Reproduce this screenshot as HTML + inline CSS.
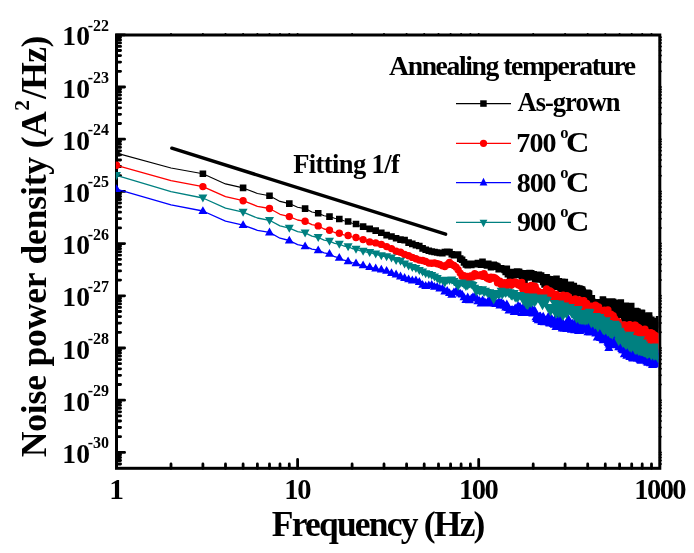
<!DOCTYPE html><html><head><meta charset="utf-8"><style>html,body{margin:0;padding:0;background:#fff;}svg{display:block;will-change:transform;}text{font-family:"Liberation Serif",serif;}</style></head><body>
<svg width="694" height="553" viewBox="0 0 694 553">
<rect width="694" height="553" fill="#fff"/>
<defs><clipPath id="c"><rect x="115.8" y="35.0" width="542.6" height="433.3"/></clipPath></defs>
<rect x="116.5" y="35.0" width="543.3" height="433.3" fill="none" stroke="#000" stroke-width="3"/>
<path d="M116.5 34.8H124.6M116.5 71.3H120.6M116.5 62.1H120.6M116.5 55.6H120.6M116.5 50.5H120.6M116.5 46.4H120.6M116.5 42.9H120.6M116.5 39.9H120.6M116.5 37.2H120.6M116.5 87.0H124.6M116.5 123.5H120.6M116.5 114.3H120.6M116.5 107.8H120.6M116.5 102.7H120.6M116.5 98.6H120.6M116.5 95.1H120.6M116.5 92.1H120.6M116.5 89.4H120.6M116.5 139.2H124.6M116.5 175.7H120.6M116.5 166.5H120.6M116.5 160.0H120.6M116.5 154.9H120.6M116.5 150.8H120.6M116.5 147.3H120.6M116.5 144.3H120.6M116.5 141.6H120.6M116.5 191.4H124.6M116.5 227.9H120.6M116.5 218.7H120.6M116.5 212.2H120.6M116.5 207.1H120.6M116.5 203.0H120.6M116.5 199.5H120.6M116.5 196.5H120.6M116.5 193.8H120.6M116.5 243.6H124.6M116.5 280.1H120.6M116.5 270.9H120.6M116.5 264.4H120.6M116.5 259.3H120.6M116.5 255.2H120.6M116.5 251.7H120.6M116.5 248.7H120.6M116.5 246.0H120.6M116.5 295.8H124.6M116.5 332.3H120.6M116.5 323.1H120.6M116.5 316.6H120.6M116.5 311.5H120.6M116.5 307.4H120.6M116.5 303.9H120.6M116.5 300.9H120.6M116.5 298.2H120.6M116.5 348.0H124.6M116.5 384.5H120.6M116.5 375.3H120.6M116.5 368.8H120.6M116.5 363.7H120.6M116.5 359.6H120.6M116.5 356.1H120.6M116.5 353.1H120.6M116.5 350.4H120.6M116.5 400.2H124.6M116.5 436.7H120.6M116.5 427.5H120.6M116.5 421.0H120.6M116.5 415.9H120.6M116.5 411.8H120.6M116.5 408.3H120.6M116.5 405.3H120.6M116.5 402.6H120.6M116.5 452.4H124.6M116.5 464.0H120.6M116.5 460.5H120.6M116.5 457.5H120.6M116.5 454.8H120.6M171.0 468.3V463.9M202.9 468.3V463.9M225.5 468.3V463.9M243.1 468.3V463.9M257.4 468.3V463.9M269.5 468.3V463.9M280.0 468.3V463.9M289.3 468.3V463.9M297.6 468.3V459.4M352.1 468.3V463.9M384.0 468.3V463.9M406.6 468.3V463.9M424.2 468.3V463.9M438.5 468.3V463.9M450.6 468.3V463.9M461.1 468.3V463.9M470.4 468.3V463.9M478.7 468.3V459.4M533.2 468.3V463.9M565.1 468.3V463.9M587.7 468.3V463.9M605.3 468.3V463.9M619.6 468.3V463.9M631.7 468.3V463.9M642.2 468.3V463.9M651.5 468.3V463.9" stroke="#000" stroke-width="2.8" stroke-linecap="round" fill="none"/>
<path d="M171.0 35V33.9M202.9 35V33.9M225.5 35V33.9M243.1 35V33.9M257.4 35V33.9M269.5 35V33.9M280.0 35V33.9M289.3 35V33.9M297.6 35V33.9M352.1 35V33.9M384.0 35V33.9M406.6 35V33.9M424.2 35V33.9M438.5 35V33.9M450.6 35V33.9M461.1 35V33.9M470.4 35V33.9M478.7 35V33.9M533.2 35V33.9M565.1 35V33.9M587.7 35V33.9M605.3 35V33.9M619.6 35V33.9M631.7 35V33.9M642.2 35V33.9M651.5 35V33.9M659.8 71.3H660.9M659.8 62.1H660.9M659.8 55.6H660.9M659.8 50.5H660.9M659.8 46.4H660.9M659.8 42.9H660.9M659.8 39.9H660.9M659.8 37.2H660.9M659.8 87.0H660.9M659.8 123.5H660.9M659.8 114.3H660.9M659.8 107.8H660.9M659.8 102.7H660.9M659.8 98.6H660.9M659.8 95.1H660.9M659.8 92.1H660.9M659.8 89.4H660.9M659.8 139.2H660.9M659.8 175.7H660.9M659.8 166.5H660.9M659.8 160.0H660.9M659.8 154.9H660.9M659.8 150.8H660.9M659.8 147.3H660.9M659.8 144.3H660.9M659.8 141.6H660.9M659.8 191.4H660.9M659.8 227.9H660.9M659.8 218.7H660.9M659.8 212.2H660.9M659.8 207.1H660.9M659.8 203.0H660.9M659.8 199.5H660.9M659.8 196.5H660.9M659.8 193.8H660.9M659.8 243.6H660.9M659.8 280.1H660.9M659.8 270.9H660.9M659.8 264.4H660.9M659.8 259.3H660.9M659.8 255.2H660.9M659.8 251.7H660.9M659.8 248.7H660.9M659.8 246.0H660.9M659.8 295.8H660.9M659.8 332.3H660.9M659.8 323.1H660.9M659.8 316.6H660.9M659.8 311.5H660.9M659.8 307.4H660.9M659.8 303.9H660.9M659.8 300.9H660.9M659.8 298.2H660.9M659.8 348.0H660.9M659.8 384.5H660.9M659.8 375.3H660.9M659.8 368.8H660.9M659.8 363.7H660.9M659.8 359.6H660.9M659.8 356.1H660.9M659.8 353.1H660.9M659.8 350.4H660.9M659.8 400.2H660.9M659.8 436.7H660.9M659.8 427.5H660.9M659.8 421.0H660.9M659.8 415.9H660.9M659.8 411.8H660.9M659.8 408.3H660.9M659.8 405.3H660.9M659.8 402.6H660.9M659.8 452.4H660.9M659.8 464.0H660.9M659.8 460.5H660.9M659.8 457.5H660.9M659.8 454.8H660.9" stroke="#000" stroke-width="2" stroke-linecap="round" fill="none"/>
<g clip-path="url(#c)">
<path d="M116.5 153.1 L171.0 168.0 L202.9 173.8 L225.5 183.9 L243.1 187.9 L257.4 193.5 L269.5 195.8 L280.0 201.4 L289.3 203.6 L297.6 207.2 L305.1 208.6 L311.9 212.0 L318.2 213.3 L324.1 215.7 L329.5 216.6 L334.6 218.3 L339.3 219.0 L343.8 220.8 L348.1 221.5 L352.1 223.3 L356.0 224.0 L359.6 225.9 L363.1 226.6 L366.5 228.3 L369.7 228.9 L372.8 230.1 L375.7 230.6 L378.6 232.2 L381.3 232.8 L384.0 234.5 L386.6 235.1 L389.1 236.1 L391.5 236.5 L393.9 237.8 L396.1 238.3 L398.3 239.2 L400.5 239.6 L402.6 239.9 L404.6 240.1 L406.6 241.9 L408.6 242.6 L410.5 243.5 L412.3 243.9 L414.1 244.9 L415.9 245.3 L417.6 245.8 L419.3 246.0 L421.0 247.7 L422.6 248.4 L424.2 249.4 L425.7 249.8 L427.3 250.5 L428.8 250.8 L430.2 251.3 L431.7 251.5 L433.1 251.9 L434.5 252.0 L435.9 252.4 L437.2 252.5 L438.5 252.9 L439.8 253.0 L442.4 253.3 L444.8 252.0 L447.2 251.8 L449.5 252.1 L451.8 254.2 L453.9 255.1 L456.1 254.5 L458.1 254.6 L460.2 258.6 L462.1 259.8 L464.0 262.4 L465.9 264.4 L467.7 265.3 L469.5 263.9 L471.3 265.0 L473.0 263.9 L474.7 264.2 L476.3 264.0 L477.9 263.1 L479.5 264.3 L481.0 264.6 L482.5 261.9 L484.0 263.7 L485.5 264.5 L486.9 265.4 L488.3 263.9 L489.7 265.1 L491.0 267.3 L492.4 266.7 L493.7 264.7 L495.0 265.6 L496.3 266.0 L497.5 266.7 L498.7 269.1 L499.9 269.2 L501.1 268.3 L502.3 268.9 L503.5 268.9 L504.6 270.0 L505.7 271.9 L506.8 268.8 L507.9 274.2 L509.0 274.2 L510.1 276.4 L511.1 276.5 L512.1 275.4 L513.2 272.1 L514.2 275.2 L515.2 274.6 L516.2 272.3 L517.1 271.6 L518.1 271.7 L519.0 271.8 L520.0 273.1 L520.9 274.6 L521.8 275.8 L522.7 278.7 L523.6 279.7 L524.5 279.9 L525.4 275.7 L526.2 273.2 L527.1 277.5 L527.9 277.2 L528.8 276.3 L529.6 273.1 L530.4 274.0 L531.2 273.4 L532.0 277.1 L532.8 274.7 L533.6 274.3 L534.4 274.9 L535.2 279.5 L535.9 279.4 L536.7 279.4 L537.4 275.6 L538.2 274.7 L538.9 274.9 L539.6 276.5 L540.4 276.4 L541.1 275.6 L541.8 279.5 L542.5 279.6 L543.2 282.0 L543.9 280.6 L544.6 284.5 L545.2 279.9 L545.9 281.0 L546.6 277.4 L547.2 279.4 L547.9 279.0 L548.5 280.2 L549.2 284.1 L549.8 279.3 L550.5 282.8 L551.1 281.7 L551.7 284.4 L552.3 283.1 L552.9 279.9 L553.5 280.3 L554.2 283.8 L554.8 286.1 L555.3 286.6 L555.9 282.7 L556.5 278.8 L557.1 284.2 L557.7 282.5 L558.3 282.2 L558.8 281.4 L559.4 282.3 L560.0 285.7 L560.5 288.9 L561.1 287.2 L561.6 283.7 L562.2 281.9 L562.7 286.4 L563.2 288.5 L563.8 288.4 L564.3 285.4 L564.8 282.1 L565.4 286.7 L565.9 290.7 L566.4 286.0 L566.9 289.5 L567.4 286.5 L567.9 286.4 L568.4 290.6 L568.9 288.2 L569.4 290.3 L569.9 289.9 L570.4 286.0 L570.9 284.8 L571.4 291.1 L571.9 289.1 L572.4 289.8 L572.8 288.3 L573.3 286.1 L573.8 286.1 L574.3 290.5 L574.7 294.6 L575.2 295.7 L575.6 291.3 L576.1 288.6 L576.6 291.6 L577.0 288.1 L577.5 292.8 L577.9 293.2 L578.3 292.8 L578.8 291.6 L579.2 288.6 L579.7 289.6 L580.1 289.0 L580.5 289.2 L581.0 289.4 L581.4 289.5 L581.8 292.6 L582.2 289.9 L582.7 291.5 L583.1 292.5 L583.5 295.9 L583.9 295.8 L584.3 293.3 L584.7 295.0 L585.1 299.4 L585.5 296.4 L585.9 300.0 L586.3 299.0 L586.7 295.7 L587.1 294.6 L587.5 292.9 L587.9 294.7 L588.3 293.3 L588.7 295.3 L589.1 293.8 L589.5 300.0 L589.9 302.5 L590.2 300.4 L590.6 299.2 L591.0 300.0 L591.4 300.4 L591.8 298.3 L592.1 301.6 L592.5 305.8 L592.9 305.3 L593.2 305.6 L593.6 306.5 L594.0 306.8 L594.3 307.0 L594.7 307.2 L595.1 307.5 L595.4 303.7 L595.8 303.7 L596.1 304.9 L596.5 303.0 L596.8 307.4 L597.2 302.9 L597.5 302.4 L597.9 303.2 L598.2 304.1 L598.6 305.6 L598.9 307.8 L599.2 306.6 L599.6 308.6 L599.9 307.5 L600.2 304.0 L600.6 307.0 L600.9 308.2 L601.2 309.1 L601.6 309.2 L601.9 309.2 L602.2 305.7 L602.6 303.8 L602.9 299.5 L603.2 301.0 L603.5 301.5 L603.9 304.6 L604.2 306.2 L604.5 305.9 L604.8 305.9 L605.1 307.8 L605.4 310.1 L605.8 308.8 L606.1 309.5 L606.4 309.8 L606.7 309.8 L607.0 308.4 L607.3 308.1 L607.6 305.6 L607.9 310.3 L608.2 310.9 L608.5 310.9 L608.8 311.0 L609.1 307.4 L609.4 303.6 L609.7 303.7 L610.0 301.6 L610.3 309.8 L610.6 305.5 L610.9 304.0 L611.2 302.7 L611.5 304.4 L611.8 301.6 L612.1 301.7 L612.3 301.9 L612.6 306.0 L612.9 302.4 L613.2 302.1 L613.5 304.5 L613.8 304.0 L614.1 307.3 L614.3 308.9 L614.6 312.1 L614.9 310.5 L615.2 307.1 L615.5 304.9 L615.7 303.0 L616.0 308.7 L616.3 305.9 L616.5 309.0 L616.8 304.4 L617.1 307.4 L617.4 307.4 L617.6 311.0 L617.9 311.6 L618.2 314.5 L618.4 314.7 L618.7 314.8 L619.0 313.5 L619.2 308.7 L619.5 308.0 L619.8 306.5 L620.0 310.3 L620.3 306.7 L620.5 308.4 L620.8 302.6 L621.1 308.4 L621.3 311.3 L621.6 313.3 L621.8 311.7 L622.1 310.6 L622.3 308.6 L622.6 309.7 L622.8 307.9 L623.1 308.1 L623.3 314.0 L623.6 309.1 L623.8 314.2 L624.1 312.6 L624.3 317.1 L624.6 318.4 L624.8 313.6 L625.1 308.9 L625.3 314.6 L625.6 308.8 L625.8 305.9 L626.0 308.6 L626.3 312.7 L626.5 310.1 L626.8 308.8 L627.0 313.6 L627.2 313.3 L627.5 311.4 L627.7 313.9 L627.9 315.0 L628.2 311.5 L628.4 314.7 L628.7 319.3 L628.9 317.9 L629.1 318.7 L629.4 319.9 L629.6 316.4 L629.8 320.0 L630.0 315.1 L630.3 310.6 L630.5 307.7 L630.7 313.2 L631.0 310.0 L631.2 306.0 L631.4 313.8 L631.6 313.9 L631.9 312.2 L632.1 311.8 L632.3 319.2 L632.5 312.7 L632.8 316.9 L633.0 314.5 L633.2 312.4 L633.4 312.1 L633.6 316.5 L633.9 317.1 L634.1 318.2 L634.3 321.2 L634.5 321.3 L634.7 320.7 L634.9 321.4 L635.2 316.4 L635.4 316.6 L635.6 315.0 L635.8 311.1 L636.0 314.7 L636.2 313.4 L636.4 313.0 L636.6 314.5 L636.9 311.8 L637.1 312.1 L637.3 311.5 L637.5 312.3 L637.7 318.5 L637.9 321.1 L638.1 322.3 L638.3 317.4 L638.5 318.1 L638.7 320.6 L638.9 321.8 L639.1 322.5 L639.3 320.7 L639.5 322.6 L639.8 318.2 L640.0 319.8 L640.2 322.8 L640.4 320.0 L640.6 314.6 L640.8 316.4 L641.0 313.0 L641.2 316.4 L641.4 312.8 L641.6 318.5 L641.8 315.1 L642.0 313.0 L642.2 317.8 L642.3 315.9 L642.5 318.0 L642.7 322.2 L642.9 322.6 L643.1 324.0 L643.3 324.0 L643.5 324.1 L643.7 321.2 L643.9 323.1 L644.1 321.4 L644.3 324.4 L644.5 324.8 L644.7 324.5 L644.9 324.6 L645.1 324.7 L645.2 324.8 L645.4 324.8 L645.6 324.9 L645.8 324.8 L646.0 325.1 L646.2 325.1 L646.4 322.7 L646.6 321.1 L646.7 323.5 L646.9 323.2 L647.1 320.6 L647.3 319.5 L647.5 323.9 L647.7 325.7 L647.8 325.8 L648.0 324.5 L648.2 321.7 L648.4 321.1 L648.6 320.5 L648.8 319.2 L648.9 315.5 L649.1 315.6 L649.3 318.3 L649.5 324.5 L649.7 323.4 L649.8 324.5 L650.0 326.1 L650.2 326.4 L650.4 326.7 L650.5 322.0 L650.7 326.6 L650.9 319.8 L651.1 320.4 L651.3 319.9 L651.4 324.1 L651.6 324.4 L651.8 324.0 L651.9 321.6 L652.1 326.7 L652.3 325.4 L652.5 325.9 L652.6 322.1 L652.8 322.0 L653.0 325.9 L653.2 326.3 L653.3 323.7 L653.5 321.2 L653.7 326.0 L653.8 328.0 L654.0 325.0 L654.2 321.1 L654.3 321.0 L654.5 326.9 L654.7 325.3 L654.8 324.9 L655.0 326.9 L655.2 329.4 L655.4 328.6 L655.5 327.4 L655.7 328.5 L655.8 323.7 L656.0 325.8 L656.2 321.1 L656.3 322.8 L656.5 327.9 L656.7 327.4 L656.8 325.1 L657.0 326.7 L657.2 322.7 L657.3 322.9 L657.5 324.5 L657.6 328.3 L657.8 330.1 L658.0 322.2 L658.1 328.1 L658.3 327.9 L658.5 322.6 L658.6 325.4 L658.8 326.5 L658.9 321.1 L659.1 319.3 L659.2 321.1 L659.4 320.6 L659.6 325.2 L659.7 328.4" fill="none" stroke="#000" stroke-width="1.1" stroke-linejoin="round"/>
<path d="M113.2 149.8h6.6v6.6h-6.6zM199.6 170.5h6.6v6.6h-6.6zM239.8 184.6h6.6v6.6h-6.6zM266.2 192.5h6.6v6.6h-6.6zM286.0 200.3h6.6v6.6h-6.6zM301.8 205.3h6.6v6.6h-6.6zM314.9 210.0h6.6v6.6h-6.6zM326.2 213.3h6.6v6.6h-6.6zM336.0 215.7h6.6v6.6h-6.6zM344.8 218.2h6.6v6.6h-6.6zM352.7 220.7h6.6v6.6h-6.6zM359.8 223.3h6.6v6.6h-6.6zM366.4 225.6h6.6v6.6h-6.6zM372.4 227.3h6.6v6.6h-6.6zM378.0 229.5h6.6v6.6h-6.6zM383.3 231.8h6.6v6.6h-6.6zM388.2 233.2h6.6v6.6h-6.6zM392.8 235.0h6.6v6.6h-6.6zM397.2 236.3h6.6v6.6h-6.6zM401.3 236.8h6.6v6.6h-6.6zM405.3 239.3h6.6v6.6h-6.6zM409.0 240.6h6.6v6.6h-6.6zM412.6 242.0h6.6v6.6h-6.6zM416.0 242.7h6.6v6.6h-6.6zM419.3 245.1h6.6v6.6h-6.6zM422.4 246.5h6.6v6.6h-6.6zM425.5 247.5h6.6v6.6h-6.6zM428.4 248.2h6.6v6.6h-6.6zM431.2 248.7h6.6v6.6h-6.6zM433.9 249.2h6.6v6.6h-6.6zM436.5 249.7h6.6v6.6h-6.6zM439.1 250.0h6.6v6.6h-6.6zM441.5 248.7h6.6v6.6h-6.6zM443.9 248.5h6.6v6.6h-6.6zM446.2 248.8h6.6v6.6h-6.6zM448.5 250.9h6.6v6.6h-6.6zM450.6 251.8h6.6v6.6h-6.6zM452.8 251.2h6.6v6.6h-6.6zM454.8 251.3h6.6v6.6h-6.6zM456.9 255.3h6.6v6.6h-6.6zM458.8 256.5h6.6v6.6h-6.6zM460.7 259.1h6.6v6.6h-6.6zM462.6 261.1h6.6v6.6h-6.6zM464.4 262.0h6.6v6.6h-6.6zM466.2 260.6h6.6v6.6h-6.6zM468.0 261.7h6.6v6.6h-6.6zM469.7 260.6h6.6v6.6h-6.6zM471.4 260.9h6.6v6.6h-6.6zM473.0 260.7h6.6v6.6h-6.6zM474.6 259.8h6.6v6.6h-6.6zM476.2 261.0h6.6v6.6h-6.6zM477.7 261.3h6.6v6.6h-6.6zM479.2 258.6h6.6v6.6h-6.6zM480.7 260.4h6.6v6.6h-6.6zM482.2 261.2h6.6v6.6h-6.6zM483.6 262.1h6.6v6.6h-6.6zM485.0 260.6h6.6v6.6h-6.6zM486.4 261.8h6.6v6.6h-6.6zM487.7 264.0h6.6v6.6h-6.6zM489.1 263.4h6.6v6.6h-6.6zM490.4 261.4h6.6v6.6h-6.6zM491.7 262.3h6.6v6.6h-6.6zM493.0 262.7h6.6v6.6h-6.6zM494.2 263.4h6.6v6.6h-6.6zM495.4 265.8h6.6v6.6h-6.6zM496.6 265.9h6.6v6.6h-6.6zM497.8 265.0h6.6v6.6h-6.6zM499.0 265.6h6.6v6.6h-6.6zM500.2 265.6h6.6v6.6h-6.6zM501.3 266.7h6.6v6.6h-6.6zM502.4 268.6h6.6v6.6h-6.6zM503.5 265.5h6.6v6.6h-6.6zM504.6 270.9h6.6v6.6h-6.6zM505.7 270.9h6.6v6.6h-6.6zM506.8 273.1h6.6v6.6h-6.6zM507.8 273.2h6.6v6.6h-6.6zM508.8 272.1h6.6v6.6h-6.6zM509.9 268.8h6.6v6.6h-6.6zM510.9 271.9h6.6v6.6h-6.6zM511.9 271.3h6.6v6.6h-6.6zM512.9 269.0h6.6v6.6h-6.6zM513.8 268.3h6.6v6.6h-6.6zM514.8 268.4h6.6v6.6h-6.6zM515.7 268.5h6.6v6.6h-6.6zM516.7 269.8h6.6v6.6h-6.6zM517.6 271.3h6.6v6.6h-6.6zM518.5 272.5h6.6v6.6h-6.6zM519.4 275.4h6.6v6.6h-6.6zM520.3 276.4h6.6v6.6h-6.6zM521.2 276.6h6.6v6.6h-6.6zM522.1 272.4h6.6v6.6h-6.6zM522.9 269.9h6.6v6.6h-6.6zM523.8 274.2h6.6v6.6h-6.6zM524.6 273.9h6.6v6.6h-6.6zM525.5 273.0h6.6v6.6h-6.6zM526.3 269.8h6.6v6.6h-6.6zM527.1 270.7h6.6v6.6h-6.6zM527.9 270.1h6.6v6.6h-6.6zM528.7 273.8h6.6v6.6h-6.6zM529.5 271.4h6.6v6.6h-6.6zM530.3 271.0h6.6v6.6h-6.6zM531.1 271.6h6.6v6.6h-6.6zM531.9 276.2h6.6v6.6h-6.6zM532.6 276.1h6.6v6.6h-6.6zM533.4 276.1h6.6v6.6h-6.6zM534.1 272.3h6.6v6.6h-6.6zM534.9 271.4h6.6v6.6h-6.6zM535.6 271.6h6.6v6.6h-6.6zM536.3 273.2h6.6v6.6h-6.6zM537.1 273.1h6.6v6.6h-6.6zM537.8 272.3h6.6v6.6h-6.6zM538.5 276.2h6.6v6.6h-6.6zM539.2 276.3h6.6v6.6h-6.6zM539.9 278.7h6.6v6.6h-6.6zM540.6 277.3h6.6v6.6h-6.6zM541.3 281.2h6.6v6.6h-6.6zM541.9 276.6h6.6v6.6h-6.6zM542.6 277.7h6.6v6.6h-6.6zM543.3 274.1h6.6v6.6h-6.6zM543.9 276.1h6.6v6.6h-6.6zM544.6 275.7h6.6v6.6h-6.6zM545.2 276.9h6.6v6.6h-6.6zM545.9 280.8h6.6v6.6h-6.6zM546.5 276.0h6.6v6.6h-6.6zM547.2 279.5h6.6v6.6h-6.6zM547.8 278.4h6.6v6.6h-6.6zM548.4 281.1h6.6v6.6h-6.6zM549.0 279.8h6.6v6.6h-6.6zM549.6 276.6h6.6v6.6h-6.6zM550.2 277.0h6.6v6.6h-6.6zM550.9 280.5h6.6v6.6h-6.6zM551.5 282.8h6.6v6.6h-6.6zM552.0 283.3h6.6v6.6h-6.6zM552.6 279.4h6.6v6.6h-6.6zM553.2 275.5h6.6v6.6h-6.6zM553.8 280.9h6.6v6.6h-6.6zM554.4 279.2h6.6v6.6h-6.6zM555.0 278.9h6.6v6.6h-6.6zM555.5 278.1h6.6v6.6h-6.6zM556.1 279.0h6.6v6.6h-6.6zM556.7 282.4h6.6v6.6h-6.6zM557.2 285.6h6.6v6.6h-6.6zM557.8 283.9h6.6v6.6h-6.6zM558.3 280.4h6.6v6.6h-6.6zM558.9 278.6h6.6v6.6h-6.6zM559.4 283.1h6.6v6.6h-6.6zM559.9 285.2h6.6v6.6h-6.6zM560.5 285.1h6.6v6.6h-6.6zM561.0 282.1h6.6v6.6h-6.6zM561.5 278.8h6.6v6.6h-6.6zM562.1 283.4h6.6v6.6h-6.6zM562.6 287.4h6.6v6.6h-6.6zM563.1 282.7h6.6v6.6h-6.6zM563.6 286.2h6.6v6.6h-6.6zM564.1 283.2h6.6v6.6h-6.6zM564.6 283.1h6.6v6.6h-6.6zM565.1 287.3h6.6v6.6h-6.6zM565.6 284.9h6.6v6.6h-6.6zM566.1 287.0h6.6v6.6h-6.6zM566.6 286.6h6.6v6.6h-6.6zM567.1 282.7h6.6v6.6h-6.6zM567.6 281.5h6.6v6.6h-6.6zM568.1 287.8h6.6v6.6h-6.6zM568.6 285.8h6.6v6.6h-6.6zM569.1 286.5h6.6v6.6h-6.6zM569.5 285.0h6.6v6.6h-6.6zM570.0 282.8h6.6v6.6h-6.6zM570.5 282.8h6.6v6.6h-6.6zM571.0 287.2h6.6v6.6h-6.6zM571.4 291.3h6.6v6.6h-6.6zM571.9 292.4h6.6v6.6h-6.6zM572.3 288.0h6.6v6.6h-6.6zM572.8 285.3h6.6v6.6h-6.6zM573.3 288.3h6.6v6.6h-6.6zM573.7 284.8h6.6v6.6h-6.6zM574.2 289.5h6.6v6.6h-6.6zM574.6 289.9h6.6v6.6h-6.6zM575.0 289.5h6.6v6.6h-6.6zM575.5 288.3h6.6v6.6h-6.6zM575.9 285.3h6.6v6.6h-6.6zM576.4 286.3h6.6v6.6h-6.6zM576.8 285.7h6.6v6.6h-6.6zM577.2 285.9h6.6v6.6h-6.6zM577.7 286.1h6.6v6.6h-6.6zM578.1 286.2h6.6v6.6h-6.6zM578.5 289.3h6.6v6.6h-6.6zM578.9 286.6h6.6v6.6h-6.6zM579.4 288.2h6.6v6.6h-6.6zM579.8 289.2h6.6v6.6h-6.6zM580.2 292.6h6.6v6.6h-6.6zM580.6 292.5h6.6v6.6h-6.6zM581.0 290.0h6.6v6.6h-6.6zM581.4 291.7h6.6v6.6h-6.6zM581.8 296.1h6.6v6.6h-6.6zM582.2 293.1h6.6v6.6h-6.6zM582.6 296.7h6.6v6.6h-6.6zM583.0 295.7h6.6v6.6h-6.6zM583.4 292.4h6.6v6.6h-6.6zM583.8 291.3h6.6v6.6h-6.6zM584.2 289.6h6.6v6.6h-6.6zM584.6 291.4h6.6v6.6h-6.6zM585.0 290.0h6.6v6.6h-6.6zM585.4 292.0h6.6v6.6h-6.6zM585.8 290.5h6.6v6.6h-6.6zM586.2 296.7h6.6v6.6h-6.6zM586.6 299.2h6.6v6.6h-6.6zM586.9 297.1h6.6v6.6h-6.6zM587.3 295.9h6.6v6.6h-6.6zM587.7 296.7h6.6v6.6h-6.6zM588.1 297.1h6.6v6.6h-6.6zM588.5 295.0h6.6v6.6h-6.6zM588.8 298.3h6.6v6.6h-6.6zM589.2 302.5h6.6v6.6h-6.6zM589.6 302.0h6.6v6.6h-6.6zM589.9 302.3h6.6v6.6h-6.6zM590.3 303.2h6.6v6.6h-6.6zM590.7 303.5h6.6v6.6h-6.6zM591.0 303.7h6.6v6.6h-6.6zM591.4 303.9h6.6v6.6h-6.6zM591.8 304.2h6.6v6.6h-6.6zM592.1 300.4h6.6v6.6h-6.6zM592.5 300.4h6.6v6.6h-6.6zM592.8 301.6h6.6v6.6h-6.6zM593.2 299.7h6.6v6.6h-6.6zM593.5 304.1h6.6v6.6h-6.6zM593.9 299.6h6.6v6.6h-6.6zM594.2 299.1h6.6v6.6h-6.6zM594.6 299.9h6.6v6.6h-6.6zM594.9 300.8h6.6v6.6h-6.6zM595.3 302.3h6.6v6.6h-6.6zM595.6 304.5h6.6v6.6h-6.6zM595.9 303.3h6.6v6.6h-6.6zM596.3 305.3h6.6v6.6h-6.6zM596.6 304.2h6.6v6.6h-6.6zM596.9 300.7h6.6v6.6h-6.6zM597.3 303.7h6.6v6.6h-6.6zM597.6 304.9h6.6v6.6h-6.6zM597.9 305.8h6.6v6.6h-6.6zM598.3 305.9h6.6v6.6h-6.6zM598.6 305.9h6.6v6.6h-6.6zM598.9 302.4h6.6v6.6h-6.6zM599.3 300.5h6.6v6.6h-6.6zM599.6 296.2h6.6v6.6h-6.6zM599.9 297.7h6.6v6.6h-6.6zM600.2 298.2h6.6v6.6h-6.6zM600.6 301.3h6.6v6.6h-6.6zM600.9 302.9h6.6v6.6h-6.6zM601.2 302.6h6.6v6.6h-6.6zM601.5 302.6h6.6v6.6h-6.6zM601.8 304.5h6.6v6.6h-6.6zM602.1 306.8h6.6v6.6h-6.6zM602.5 305.5h6.6v6.6h-6.6zM602.8 306.2h6.6v6.6h-6.6zM603.1 306.5h6.6v6.6h-6.6zM603.4 306.5h6.6v6.6h-6.6zM603.7 305.1h6.6v6.6h-6.6zM604.0 304.8h6.6v6.6h-6.6zM604.3 302.3h6.6v6.6h-6.6zM604.6 307.0h6.6v6.6h-6.6zM604.9 307.6h6.6v6.6h-6.6zM605.2 307.6h6.6v6.6h-6.6zM605.5 307.7h6.6v6.6h-6.6zM605.8 304.1h6.6v6.6h-6.6zM606.1 300.3h6.6v6.6h-6.6zM606.4 300.4h6.6v6.6h-6.6zM606.7 298.3h6.6v6.6h-6.6zM607.0 306.5h6.6v6.6h-6.6zM607.3 302.2h6.6v6.6h-6.6zM607.6 300.7h6.6v6.6h-6.6zM607.9 299.4h6.6v6.6h-6.6zM608.2 301.1h6.6v6.6h-6.6zM608.5 298.3h6.6v6.6h-6.6zM608.8 298.4h6.6v6.6h-6.6zM609.0 298.6h6.6v6.6h-6.6zM609.3 302.7h6.6v6.6h-6.6zM609.6 299.1h6.6v6.6h-6.6zM609.9 298.8h6.6v6.6h-6.6zM610.2 301.2h6.6v6.6h-6.6zM610.5 300.7h6.6v6.6h-6.6zM610.8 304.0h6.6v6.6h-6.6zM611.0 305.6h6.6v6.6h-6.6zM611.3 308.8h6.6v6.6h-6.6zM611.6 307.2h6.6v6.6h-6.6zM611.9 303.8h6.6v6.6h-6.6zM612.2 301.6h6.6v6.6h-6.6zM612.4 299.7h6.6v6.6h-6.6zM612.7 305.4h6.6v6.6h-6.6zM613.0 302.6h6.6v6.6h-6.6zM613.2 305.7h6.6v6.6h-6.6zM613.5 301.1h6.6v6.6h-6.6zM613.8 304.1h6.6v6.6h-6.6zM614.1 304.1h6.6v6.6h-6.6zM614.3 307.7h6.6v6.6h-6.6zM614.6 308.3h6.6v6.6h-6.6zM614.9 311.2h6.6v6.6h-6.6zM615.1 311.4h6.6v6.6h-6.6zM615.4 311.5h6.6v6.6h-6.6zM615.7 310.2h6.6v6.6h-6.6zM615.9 305.4h6.6v6.6h-6.6zM616.2 304.7h6.6v6.6h-6.6zM616.5 303.2h6.6v6.6h-6.6zM616.7 307.0h6.6v6.6h-6.6zM617.0 303.4h6.6v6.6h-6.6zM617.2 305.1h6.6v6.6h-6.6zM617.5 299.3h6.6v6.6h-6.6zM617.8 305.1h6.6v6.6h-6.6zM618.0 308.0h6.6v6.6h-6.6zM618.3 310.0h6.6v6.6h-6.6zM618.5 308.4h6.6v6.6h-6.6zM618.8 307.3h6.6v6.6h-6.6zM619.0 305.3h6.6v6.6h-6.6zM619.3 306.4h6.6v6.6h-6.6zM619.5 304.6h6.6v6.6h-6.6zM619.8 304.8h6.6v6.6h-6.6zM620.0 310.7h6.6v6.6h-6.6zM620.3 305.8h6.6v6.6h-6.6zM620.5 310.9h6.6v6.6h-6.6zM620.8 309.3h6.6v6.6h-6.6zM621.0 313.8h6.6v6.6h-6.6zM621.3 315.1h6.6v6.6h-6.6zM621.5 310.3h6.6v6.6h-6.6zM621.8 305.6h6.6v6.6h-6.6zM622.0 311.3h6.6v6.6h-6.6zM622.3 305.5h6.6v6.6h-6.6zM622.5 302.6h6.6v6.6h-6.6zM622.7 305.3h6.6v6.6h-6.6zM623.0 309.4h6.6v6.6h-6.6zM623.2 306.8h6.6v6.6h-6.6zM623.5 305.5h6.6v6.6h-6.6zM623.7 310.3h6.6v6.6h-6.6zM623.9 310.0h6.6v6.6h-6.6zM624.2 308.1h6.6v6.6h-6.6zM624.4 310.6h6.6v6.6h-6.6zM624.6 311.7h6.6v6.6h-6.6zM624.9 308.2h6.6v6.6h-6.6zM625.1 311.4h6.6v6.6h-6.6zM625.4 316.0h6.6v6.6h-6.6zM625.6 314.6h6.6v6.6h-6.6zM625.8 315.4h6.6v6.6h-6.6zM626.1 316.6h6.6v6.6h-6.6zM626.3 313.1h6.6v6.6h-6.6zM626.5 316.7h6.6v6.6h-6.6zM626.7 311.8h6.6v6.6h-6.6zM627.0 307.3h6.6v6.6h-6.6zM627.2 304.4h6.6v6.6h-6.6zM627.4 309.9h6.6v6.6h-6.6zM627.7 306.7h6.6v6.6h-6.6zM627.9 302.7h6.6v6.6h-6.6zM628.1 310.5h6.6v6.6h-6.6zM628.3 310.6h6.6v6.6h-6.6zM628.6 308.9h6.6v6.6h-6.6zM628.8 308.5h6.6v6.6h-6.6zM629.0 315.9h6.6v6.6h-6.6zM629.2 309.4h6.6v6.6h-6.6zM629.5 313.6h6.6v6.6h-6.6zM629.7 311.2h6.6v6.6h-6.6zM629.9 309.1h6.6v6.6h-6.6zM630.1 308.8h6.6v6.6h-6.6zM630.3 313.2h6.6v6.6h-6.6zM630.6 313.8h6.6v6.6h-6.6zM630.8 314.9h6.6v6.6h-6.6zM631.0 317.9h6.6v6.6h-6.6zM631.2 318.0h6.6v6.6h-6.6zM631.4 317.4h6.6v6.6h-6.6zM631.6 318.1h6.6v6.6h-6.6zM631.9 313.1h6.6v6.6h-6.6zM632.1 313.3h6.6v6.6h-6.6zM632.3 311.7h6.6v6.6h-6.6zM632.5 307.8h6.6v6.6h-6.6zM632.7 311.4h6.6v6.6h-6.6zM632.9 310.1h6.6v6.6h-6.6zM633.1 309.7h6.6v6.6h-6.6zM633.3 311.2h6.6v6.6h-6.6zM633.6 308.5h6.6v6.6h-6.6zM633.8 308.8h6.6v6.6h-6.6zM634.0 308.2h6.6v6.6h-6.6zM634.2 309.0h6.6v6.6h-6.6zM634.4 315.2h6.6v6.6h-6.6zM634.6 317.8h6.6v6.6h-6.6zM634.8 319.0h6.6v6.6h-6.6zM635.0 314.1h6.6v6.6h-6.6zM635.2 314.8h6.6v6.6h-6.6zM635.4 317.3h6.6v6.6h-6.6zM635.6 318.5h6.6v6.6h-6.6zM635.8 319.2h6.6v6.6h-6.6zM636.0 317.4h6.6v6.6h-6.6zM636.2 319.3h6.6v6.6h-6.6zM636.5 314.9h6.6v6.6h-6.6zM636.7 316.5h6.6v6.6h-6.6zM636.9 319.5h6.6v6.6h-6.6zM637.1 316.7h6.6v6.6h-6.6zM637.3 311.3h6.6v6.6h-6.6zM637.5 313.1h6.6v6.6h-6.6zM637.7 309.7h6.6v6.6h-6.6zM637.9 313.1h6.6v6.6h-6.6zM638.1 309.5h6.6v6.6h-6.6zM638.3 315.2h6.6v6.6h-6.6zM638.5 311.8h6.6v6.6h-6.6zM638.7 309.7h6.6v6.6h-6.6zM638.9 314.5h6.6v6.6h-6.6zM639.0 312.6h6.6v6.6h-6.6zM639.2 314.7h6.6v6.6h-6.6zM639.4 318.9h6.6v6.6h-6.6zM639.6 319.3h6.6v6.6h-6.6zM639.8 320.7h6.6v6.6h-6.6zM640.0 320.7h6.6v6.6h-6.6zM640.2 320.8h6.6v6.6h-6.6zM640.4 317.9h6.6v6.6h-6.6zM640.6 319.8h6.6v6.6h-6.6zM640.8 318.1h6.6v6.6h-6.6zM641.0 321.1h6.6v6.6h-6.6zM641.2 321.5h6.6v6.6h-6.6zM641.4 321.2h6.6v6.6h-6.6zM641.6 321.3h6.6v6.6h-6.6zM641.8 321.4h6.6v6.6h-6.6zM641.9 321.5h6.6v6.6h-6.6zM642.1 321.5h6.6v6.6h-6.6zM642.3 321.6h6.6v6.6h-6.6zM642.5 321.5h6.6v6.6h-6.6zM642.7 321.8h6.6v6.6h-6.6zM642.9 321.8h6.6v6.6h-6.6zM643.1 319.4h6.6v6.6h-6.6zM643.3 317.8h6.6v6.6h-6.6zM643.4 320.2h6.6v6.6h-6.6zM643.6 319.9h6.6v6.6h-6.6zM643.8 317.3h6.6v6.6h-6.6zM644.0 316.2h6.6v6.6h-6.6zM644.2 320.6h6.6v6.6h-6.6zM644.4 322.4h6.6v6.6h-6.6zM644.5 322.5h6.6v6.6h-6.6zM644.7 321.2h6.6v6.6h-6.6zM644.9 318.4h6.6v6.6h-6.6zM645.1 317.8h6.6v6.6h-6.6zM645.3 317.2h6.6v6.6h-6.6zM645.5 315.9h6.6v6.6h-6.6zM645.6 312.2h6.6v6.6h-6.6zM645.8 312.3h6.6v6.6h-6.6zM646.0 315.0h6.6v6.6h-6.6zM646.2 321.2h6.6v6.6h-6.6zM646.4 320.1h6.6v6.6h-6.6zM646.5 321.2h6.6v6.6h-6.6zM646.7 322.8h6.6v6.6h-6.6zM646.9 323.1h6.6v6.6h-6.6zM647.1 323.4h6.6v6.6h-6.6zM647.2 318.7h6.6v6.6h-6.6zM647.4 323.3h6.6v6.6h-6.6zM647.6 316.5h6.6v6.6h-6.6zM647.8 317.1h6.6v6.6h-6.6zM648.0 316.6h6.6v6.6h-6.6zM648.1 320.8h6.6v6.6h-6.6zM648.3 321.1h6.6v6.6h-6.6zM648.5 320.7h6.6v6.6h-6.6zM648.6 318.3h6.6v6.6h-6.6zM648.8 323.4h6.6v6.6h-6.6zM649.0 322.1h6.6v6.6h-6.6zM649.2 322.6h6.6v6.6h-6.6zM649.3 318.8h6.6v6.6h-6.6zM649.5 318.7h6.6v6.6h-6.6zM649.7 322.6h6.6v6.6h-6.6zM649.9 323.0h6.6v6.6h-6.6zM650.0 320.4h6.6v6.6h-6.6zM650.2 317.9h6.6v6.6h-6.6zM650.4 322.7h6.6v6.6h-6.6zM650.5 324.7h6.6v6.6h-6.6zM650.7 321.7h6.6v6.6h-6.6zM650.9 317.8h6.6v6.6h-6.6zM651.0 317.7h6.6v6.6h-6.6zM651.2 323.6h6.6v6.6h-6.6zM651.4 322.0h6.6v6.6h-6.6zM651.5 321.6h6.6v6.6h-6.6zM651.7 323.6h6.6v6.6h-6.6zM651.9 326.1h6.6v6.6h-6.6zM652.1 325.3h6.6v6.6h-6.6zM652.2 324.1h6.6v6.6h-6.6zM652.4 325.2h6.6v6.6h-6.6zM652.5 320.4h6.6v6.6h-6.6zM652.7 322.5h6.6v6.6h-6.6zM652.9 317.8h6.6v6.6h-6.6zM653.0 319.5h6.6v6.6h-6.6zM653.2 324.6h6.6v6.6h-6.6zM653.4 324.1h6.6v6.6h-6.6zM653.5 321.8h6.6v6.6h-6.6zM653.7 323.4h6.6v6.6h-6.6zM653.9 319.4h6.6v6.6h-6.6zM654.0 319.6h6.6v6.6h-6.6zM654.2 321.2h6.6v6.6h-6.6zM654.3 325.0h6.6v6.6h-6.6zM654.5 326.8h6.6v6.6h-6.6zM654.7 318.9h6.6v6.6h-6.6zM654.8 324.8h6.6v6.6h-6.6zM655.0 324.6h6.6v6.6h-6.6zM655.2 319.3h6.6v6.6h-6.6zM655.3 322.1h6.6v6.6h-6.6zM655.5 323.2h6.6v6.6h-6.6zM655.6 317.8h6.6v6.6h-6.6zM655.8 316.0h6.6v6.6h-6.6zM655.9 317.8h6.6v6.6h-6.6zM656.1 317.3h6.6v6.6h-6.6zM656.3 321.9h6.6v6.6h-6.6zM656.4 325.1h6.6v6.6h-6.6z" fill="#000"/>
<path d="M116.5 165.3 L171.0 180.7 L202.9 186.6 L225.5 196.7 L243.1 200.7 L257.4 206.3 L269.5 208.5 L280.0 214.3 L289.3 216.6 L297.6 220.0 L305.1 221.3 L311.9 224.6 L318.2 225.9 L324.1 229.0 L329.5 230.2 L334.6 232.5 L339.3 233.3 L343.8 234.9 L348.1 235.5 L352.1 236.9 L356.0 237.5 L359.6 239.0 L363.1 239.6 L366.5 241.3 L369.7 241.9 L372.8 242.6 L375.7 242.9 L378.6 244.0 L381.3 244.4 L384.0 246.0 L386.6 246.6 L389.1 248.0 L391.5 248.6 L393.9 250.4 L396.1 251.2 L398.3 251.9 L400.5 252.3 L402.6 253.8 L404.6 254.4 L406.6 255.3 L408.6 255.7 L410.5 256.9 L412.3 257.4 L414.1 258.4 L415.9 258.8 L417.6 259.8 L419.3 260.1 L421.0 260.4 L422.6 260.5 L424.2 261.1 L425.7 261.4 L427.3 262.6 L428.8 263.0 L430.2 263.2 L431.7 263.2 L433.1 263.1 L434.5 263.0 L435.9 263.5 L437.2 263.7 L438.5 264.3 L439.8 264.5 L442.4 265.7 L444.8 266.6 L447.2 264.7 L449.5 262.4 L451.8 264.4 L453.9 265.5 L456.1 267.2 L458.1 269.7 L460.2 273.1 L462.1 276.2 L464.0 275.6 L465.9 278.6 L467.7 276.5 L469.5 278.3 L471.3 275.6 L473.0 276.7 L474.7 273.7 L476.3 275.8 L477.9 275.1 L479.5 275.6 L481.0 274.7 L482.5 276.2 L484.0 273.7 L485.5 276.3 L486.9 278.0 L488.3 278.8 L489.7 279.3 L491.0 277.2 L492.4 278.0 L493.7 277.5 L495.0 277.9 L496.3 279.0 L497.5 282.7 L498.7 281.6 L499.9 281.1 L501.1 284.6 L502.3 285.2 L503.5 285.6 L504.6 282.7 L505.7 283.0 L506.8 286.0 L507.9 282.5 L509.0 284.7 L510.1 282.2 L511.1 285.2 L512.1 284.4 L513.2 283.5 L514.2 282.1 L515.2 282.3 L516.2 282.5 L517.1 282.7 L518.1 284.7 L519.0 283.1 L520.0 285.8 L520.9 284.4 L521.8 282.4 L522.7 289.1 L523.6 291.3 L524.5 287.8 L525.4 287.9 L526.2 288.5 L527.1 286.4 L527.9 289.8 L528.8 289.8 L529.6 292.4 L530.4 290.5 L531.2 285.4 L532.0 285.6 L532.8 286.0 L533.6 289.6 L534.4 287.1 L535.2 286.4 L535.9 288.6 L536.7 293.8 L537.4 292.8 L538.2 291.2 L538.9 293.7 L539.6 293.1 L540.4 295.8 L541.1 296.0 L541.8 294.2 L542.5 293.4 L543.2 292.5 L543.9 296.1 L544.6 297.0 L545.2 294.6 L545.9 291.2 L546.6 289.0 L547.2 293.9 L547.9 295.1 L548.5 293.0 L549.2 294.9 L549.8 294.2 L550.5 291.1 L551.1 296.3 L551.7 292.3 L552.3 295.2 L552.9 298.6 L553.5 299.0 L554.2 299.7 L554.8 299.9 L555.3 301.1 L555.9 294.3 L556.5 294.9 L557.1 297.3 L557.7 298.8 L558.3 301.0 L558.8 301.2 L559.4 301.4 L560.0 298.0 L560.5 297.0 L561.1 301.4 L561.6 295.8 L562.2 298.6 L562.7 299.8 L563.2 295.1 L563.8 298.5 L564.3 302.2 L564.8 297.5 L565.4 300.5 L565.9 302.3 L566.4 298.5 L566.9 295.8 L567.4 296.9 L567.9 298.8 L568.4 296.8 L568.9 298.3 L569.4 298.5 L569.9 300.3 L570.4 304.3 L570.9 305.6 L571.4 305.8 L571.9 304.6 L572.4 306.2 L572.8 303.0 L573.3 305.6 L573.8 300.3 L574.3 305.6 L574.7 301.3 L575.2 298.9 L575.6 301.0 L576.1 305.2 L576.6 305.8 L577.0 305.2 L577.5 300.7 L577.9 300.1 L578.3 304.3 L578.8 303.2 L579.2 299.9 L579.7 300.7 L580.1 305.4 L580.5 306.3 L581.0 303.2 L581.4 301.5 L581.8 307.1 L582.2 309.3 L582.7 306.5 L583.1 302.2 L583.5 300.7 L583.9 300.8 L584.3 306.7 L584.7 307.8 L585.1 305.6 L585.5 303.5 L585.9 306.4 L586.3 305.2 L586.7 303.4 L587.1 306.1 L587.5 309.6 L587.9 312.0 L588.3 310.4 L588.7 312.3 L589.1 312.5 L589.5 312.7 L589.9 312.8 L590.2 313.0 L590.6 311.0 L591.0 307.0 L591.4 306.3 L591.8 311.1 L592.1 313.8 L592.5 308.0 L592.9 307.2 L593.2 311.8 L593.6 310.3 L594.0 307.6 L594.3 307.5 L594.7 309.8 L595.1 308.3 L595.4 305.3 L595.8 305.5 L596.1 306.4 L596.5 306.8 L596.8 306.1 L597.2 306.7 L597.5 311.2 L597.9 308.1 L598.2 309.0 L598.6 307.0 L598.9 312.3 L599.2 315.0 L599.6 313.1 L599.9 312.0 L600.2 313.6 L600.6 316.8 L600.9 316.3 L601.2 318.4 L601.6 318.6 L601.9 317.3 L602.2 311.7 L602.6 317.6 L602.9 319.4 L603.2 319.5 L603.5 317.5 L603.9 311.8 L604.2 311.8 L604.5 310.2 L604.8 310.4 L605.1 314.8 L605.4 313.9 L605.8 311.4 L606.1 311.2 L606.4 316.2 L606.7 316.7 L607.0 320.5 L607.3 319.1 L607.6 314.8 L607.9 310.0 L608.2 313.5 L608.5 314.3 L608.8 316.1 L609.1 318.8 L609.4 322.0 L609.7 323.6 L610.0 319.8 L610.3 316.1 L610.6 315.6 L610.9 314.3 L611.2 314.4 L611.5 316.1 L611.8 317.0 L612.1 318.8 L612.3 320.5 L612.6 317.8 L612.9 315.6 L613.2 315.7 L613.5 318.2 L613.8 321.8 L614.1 319.1 L614.3 318.3 L614.6 324.7 L614.9 325.6 L615.2 326.9 L615.5 327.1 L615.7 326.8 L616.0 322.1 L616.3 325.9 L616.5 325.3 L616.8 328.8 L617.1 322.5 L617.4 327.0 L617.6 328.5 L617.9 322.5 L618.2 321.4 L618.4 324.1 L618.7 328.7 L619.0 324.1 L619.2 328.8 L619.5 331.6 L619.8 331.6 L620.0 330.7 L620.3 332.0 L620.5 328.8 L620.8 327.3 L621.1 327.4 L621.3 329.5 L621.6 325.6 L621.8 330.7 L622.1 333.3 L622.3 335.9 L622.6 332.7 L622.8 332.9 L623.1 327.1 L623.3 330.1 L623.6 330.4 L623.8 326.6 L624.1 329.9 L624.3 329.1 L624.6 325.0 L624.8 329.6 L625.1 330.1 L625.3 333.4 L625.6 333.0 L625.8 329.9 L626.0 328.6 L626.3 330.4 L626.5 327.7 L626.8 332.8 L627.0 334.7 L627.2 332.2 L627.5 334.7 L627.7 327.6 L627.9 334.1 L628.2 329.3 L628.4 325.5 L628.7 327.4 L628.9 329.1 L629.1 331.7 L629.4 326.2 L629.6 324.6 L629.8 324.6 L630.0 327.8 L630.3 333.0 L630.5 332.4 L630.7 333.1 L631.0 328.2 L631.2 330.5 L631.4 334.7 L631.6 331.2 L631.9 331.8 L632.1 334.0 L632.3 335.3 L632.5 335.3 L632.8 334.5 L633.0 328.0 L633.2 328.4 L633.4 327.2 L633.6 329.5 L633.9 329.0 L634.1 329.5 L634.3 325.8 L634.5 325.1 L634.7 328.8 L634.9 328.5 L635.2 325.4 L635.4 325.2 L635.6 327.0 L635.8 329.5 L636.0 327.1 L636.2 333.5 L636.4 331.6 L636.6 327.7 L636.9 328.3 L637.1 330.4 L637.3 335.1 L637.5 334.8 L637.7 334.1 L637.9 327.2 L638.1 332.5 L638.3 329.3 L638.5 329.6 L638.7 327.8 L638.9 331.6 L639.1 334.5 L639.3 328.3 L639.5 332.8 L639.8 332.6 L640.0 333.9 L640.2 335.0 L640.4 336.5 L640.6 336.5 L640.8 334.9 L641.0 336.9 L641.2 334.9 L641.4 337.2 L641.6 337.1 L641.8 331.3 L642.0 333.0 L642.2 337.6 L642.3 334.5 L642.5 336.5 L642.7 333.7 L642.9 331.9 L643.1 334.1 L643.3 332.9 L643.5 338.1 L643.7 335.3 L643.9 335.4 L644.1 336.3 L644.3 339.1 L644.5 339.0 L644.7 332.4 L644.9 329.3 L645.1 329.9 L645.2 334.2 L645.4 337.8 L645.6 332.3 L645.8 332.4 L646.0 332.9 L646.2 331.7 L646.4 336.4 L646.6 338.4 L646.7 340.7 L646.9 339.7 L647.1 339.3 L647.3 335.9 L647.5 336.7 L647.7 336.1 L647.8 336.2 L648.0 333.7 L648.2 339.7 L648.4 335.8 L648.6 338.5 L648.8 338.7 L648.9 341.7 L649.1 340.0 L649.3 337.9 L649.5 336.3 L649.7 333.7 L649.8 339.6 L650.0 340.0 L650.2 335.4 L650.4 335.7 L650.5 339.7 L650.7 336.8 L650.9 332.7 L651.1 335.7 L651.3 333.0 L651.4 333.1 L651.6 337.5 L651.8 342.7 L651.9 337.6 L652.1 333.8 L652.3 336.2 L652.5 333.4 L652.6 341.1 L652.8 338.5 L653.0 342.6 L653.2 341.0 L653.3 345.0 L653.5 341.8 L653.7 343.1 L653.8 338.8 L654.0 336.5 L654.2 335.7 L654.3 335.0 L654.5 339.8 L654.7 342.4 L654.8 338.0 L655.0 341.7 L655.2 344.1 L655.4 341.3 L655.5 336.9 L655.7 335.8 L655.8 336.9 L656.0 337.3 L656.2 337.0 L656.3 336.2 L656.5 336.4 L656.7 336.5 L656.8 338.7 L657.0 343.0 L657.2 347.1 L657.3 347.6 L657.5 347.7 L657.6 347.9 L657.8 348.0 L658.0 344.7 L658.1 339.2 L658.3 340.0 L658.5 341.9 L658.6 342.7 L658.8 346.7 L658.9 348.7 L659.1 348.8 L659.2 348.9 L659.4 349.0 L659.6 347.1 L659.7 347.1" fill="none" stroke="#f00" stroke-width="1.3" stroke-linejoin="round"/>
<path d="M116.5 165.3h0M202.9 186.6h0M243.1 200.7h0M269.5 208.5h0M289.3 216.6h0M305.1 221.3h0M318.2 225.9h0M329.5 230.2h0M339.3 233.3h0M348.1 235.5h0M356.0 237.5h0M363.1 239.6h0M369.7 241.9h0M375.7 242.9h0M381.3 244.4h0M386.6 246.6h0M391.5 248.6h0M396.1 251.2h0M400.5 252.3h0M404.6 254.4h0M408.6 255.7h0M412.3 257.4h0M415.9 258.8h0M419.3 260.1h0M422.6 260.5h0M425.7 261.4h0M428.8 263.0h0M431.7 263.2h0M434.5 263.0h0M437.2 263.7h0M439.8 264.5h0M442.4 265.7h0M444.8 266.6h0M447.2 264.7h0M449.5 262.4h0M451.8 264.4h0M453.9 265.5h0M456.1 267.2h0M458.1 269.7h0M460.2 273.1h0M462.1 276.2h0M464.0 275.6h0M465.9 278.6h0M467.7 276.5h0M469.5 278.3h0M471.3 275.6h0M473.0 276.7h0M474.7 273.7h0M476.3 275.8h0M477.9 275.1h0M479.5 275.6h0M481.0 274.7h0M482.5 276.2h0M484.0 273.7h0M485.5 276.3h0M486.9 278.0h0M488.3 278.8h0M489.7 279.3h0M491.0 277.2h0M492.4 278.0h0M493.7 277.5h0M495.0 277.9h0M496.3 279.0h0M497.5 282.7h0M498.7 281.6h0M499.9 281.1h0M501.1 284.6h0M502.3 285.2h0M503.5 285.6h0M504.6 282.7h0M505.7 283.0h0M506.8 286.0h0M507.9 282.5h0M509.0 284.7h0M510.1 282.2h0M511.1 285.2h0M512.1 284.4h0M513.2 283.5h0M514.2 282.1h0M515.2 282.3h0M516.2 282.5h0M517.1 282.7h0M518.1 284.7h0M519.0 283.1h0M520.0 285.8h0M520.9 284.4h0M521.8 282.4h0M522.7 289.1h0M523.6 291.3h0M524.5 287.8h0M525.4 287.9h0M526.2 288.5h0M527.1 286.4h0M527.9 289.8h0M528.8 289.8h0M529.6 292.4h0M530.4 290.5h0M531.2 285.4h0M532.0 285.6h0M532.8 286.0h0M533.6 289.6h0M534.4 287.1h0M535.2 286.4h0M535.9 288.6h0M536.7 293.8h0M537.4 292.8h0M538.2 291.2h0M538.9 293.7h0M539.6 293.1h0M540.4 295.8h0M541.1 296.0h0M541.8 294.2h0M542.5 293.4h0M543.2 292.5h0M543.9 296.1h0M544.6 297.0h0M545.2 294.6h0M545.9 291.2h0M546.6 289.0h0M547.2 293.9h0M547.9 295.1h0M548.5 293.0h0M549.2 294.9h0M549.8 294.2h0M550.5 291.1h0M551.1 296.3h0M551.7 292.3h0M552.3 295.2h0M552.9 298.6h0M553.5 299.0h0M554.2 299.7h0M554.8 299.9h0M555.3 301.1h0M555.9 294.3h0M556.5 294.9h0M557.1 297.3h0M557.7 298.8h0M558.3 301.0h0M558.8 301.2h0M559.4 301.4h0M560.0 298.0h0M560.5 297.0h0M561.1 301.4h0M561.6 295.8h0M562.2 298.6h0M562.7 299.8h0M563.2 295.1h0M563.8 298.5h0M564.3 302.2h0M564.8 297.5h0M565.4 300.5h0M565.9 302.3h0M566.4 298.5h0M566.9 295.8h0M567.4 296.9h0M567.9 298.8h0M568.4 296.8h0M568.9 298.3h0M569.4 298.5h0M569.9 300.3h0M570.4 304.3h0M570.9 305.6h0M571.4 305.8h0M571.9 304.6h0M572.4 306.2h0M572.8 303.0h0M573.3 305.6h0M573.8 300.3h0M574.3 305.6h0M574.7 301.3h0M575.2 298.9h0M575.6 301.0h0M576.1 305.2h0M576.6 305.8h0M577.0 305.2h0M577.5 300.7h0M577.9 300.1h0M578.3 304.3h0M578.8 303.2h0M579.2 299.9h0M579.7 300.7h0M580.1 305.4h0M580.5 306.3h0M581.0 303.2h0M581.4 301.5h0M581.8 307.1h0M582.2 309.3h0M582.7 306.5h0M583.1 302.2h0M583.5 300.7h0M583.9 300.8h0M584.3 306.7h0M584.7 307.8h0M585.1 305.6h0M585.5 303.5h0M585.9 306.4h0M586.3 305.2h0M586.7 303.4h0M587.1 306.1h0M587.5 309.6h0M587.9 312.0h0M588.3 310.4h0M588.7 312.3h0M589.1 312.5h0M589.5 312.7h0M589.9 312.8h0M590.2 313.0h0M590.6 311.0h0M591.0 307.0h0M591.4 306.3h0M591.8 311.1h0M592.1 313.8h0M592.5 308.0h0M592.9 307.2h0M593.2 311.8h0M593.6 310.3h0M594.0 307.6h0M594.3 307.5h0M594.7 309.8h0M595.1 308.3h0M595.4 305.3h0M595.8 305.5h0M596.1 306.4h0M596.5 306.8h0M596.8 306.1h0M597.2 306.7h0M597.5 311.2h0M597.9 308.1h0M598.2 309.0h0M598.6 307.0h0M598.9 312.3h0M599.2 315.0h0M599.6 313.1h0M599.9 312.0h0M600.2 313.6h0M600.6 316.8h0M600.9 316.3h0M601.2 318.4h0M601.6 318.6h0M601.9 317.3h0M602.2 311.7h0M602.6 317.6h0M602.9 319.4h0M603.2 319.5h0M603.5 317.5h0M603.9 311.8h0M604.2 311.8h0M604.5 310.2h0M604.8 310.4h0M605.1 314.8h0M605.4 313.9h0M605.8 311.4h0M606.1 311.2h0M606.4 316.2h0M606.7 316.7h0M607.0 320.5h0M607.3 319.1h0M607.6 314.8h0M607.9 310.0h0M608.2 313.5h0M608.5 314.3h0M608.8 316.1h0M609.1 318.8h0M609.4 322.0h0M609.7 323.6h0M610.0 319.8h0M610.3 316.1h0M610.6 315.6h0M610.9 314.3h0M611.2 314.4h0M611.5 316.1h0M611.8 317.0h0M612.1 318.8h0M612.3 320.5h0M612.6 317.8h0M612.9 315.6h0M613.2 315.7h0M613.5 318.2h0M613.8 321.8h0M614.1 319.1h0M614.3 318.3h0M614.6 324.7h0M614.9 325.6h0M615.2 326.9h0M615.5 327.1h0M615.7 326.8h0M616.0 322.1h0M616.3 325.9h0M616.5 325.3h0M616.8 328.8h0M617.1 322.5h0M617.4 327.0h0M617.6 328.5h0M617.9 322.5h0M618.2 321.4h0M618.4 324.1h0M618.7 328.7h0M619.0 324.1h0M619.2 328.8h0M619.5 331.6h0M619.8 331.6h0M620.0 330.7h0M620.3 332.0h0M620.5 328.8h0M620.8 327.3h0M621.1 327.4h0M621.3 329.5h0M621.6 325.6h0M621.8 330.7h0M622.1 333.3h0M622.3 335.9h0M622.6 332.7h0M622.8 332.9h0M623.1 327.1h0M623.3 330.1h0M623.6 330.4h0M623.8 326.6h0M624.1 329.9h0M624.3 329.1h0M624.6 325.0h0M624.8 329.6h0M625.1 330.1h0M625.3 333.4h0M625.6 333.0h0M625.8 329.9h0M626.0 328.6h0M626.3 330.4h0M626.5 327.7h0M626.8 332.8h0M627.0 334.7h0M627.2 332.2h0M627.5 334.7h0M627.7 327.6h0M627.9 334.1h0M628.2 329.3h0M628.4 325.5h0M628.7 327.4h0M628.9 329.1h0M629.1 331.7h0M629.4 326.2h0M629.6 324.6h0M629.8 324.6h0M630.0 327.8h0M630.3 333.0h0M630.5 332.4h0M630.7 333.1h0M631.0 328.2h0M631.2 330.5h0M631.4 334.7h0M631.6 331.2h0M631.9 331.8h0M632.1 334.0h0M632.3 335.3h0M632.5 335.3h0M632.8 334.5h0M633.0 328.0h0M633.2 328.4h0M633.4 327.2h0M633.6 329.5h0M633.9 329.0h0M634.1 329.5h0M634.3 325.8h0M634.5 325.1h0M634.7 328.8h0M634.9 328.5h0M635.2 325.4h0M635.4 325.2h0M635.6 327.0h0M635.8 329.5h0M636.0 327.1h0M636.2 333.5h0M636.4 331.6h0M636.6 327.7h0M636.9 328.3h0M637.1 330.4h0M637.3 335.1h0M637.5 334.8h0M637.7 334.1h0M637.9 327.2h0M638.1 332.5h0M638.3 329.3h0M638.5 329.6h0M638.7 327.8h0M638.9 331.6h0M639.1 334.5h0M639.3 328.3h0M639.5 332.8h0M639.8 332.6h0M640.0 333.9h0M640.2 335.0h0M640.4 336.5h0M640.6 336.5h0M640.8 334.9h0M641.0 336.9h0M641.2 334.9h0M641.4 337.2h0M641.6 337.1h0M641.8 331.3h0M642.0 333.0h0M642.2 337.6h0M642.3 334.5h0M642.5 336.5h0M642.7 333.7h0M642.9 331.9h0M643.1 334.1h0M643.3 332.9h0M643.5 338.1h0M643.7 335.3h0M643.9 335.4h0M644.1 336.3h0M644.3 339.1h0M644.5 339.0h0M644.7 332.4h0M644.9 329.3h0M645.1 329.9h0M645.2 334.2h0M645.4 337.8h0M645.6 332.3h0M645.8 332.4h0M646.0 332.9h0M646.2 331.7h0M646.4 336.4h0M646.6 338.4h0M646.7 340.7h0M646.9 339.7h0M647.1 339.3h0M647.3 335.9h0M647.5 336.7h0M647.7 336.1h0M647.8 336.2h0M648.0 333.7h0M648.2 339.7h0M648.4 335.8h0M648.6 338.5h0M648.8 338.7h0M648.9 341.7h0M649.1 340.0h0M649.3 337.9h0M649.5 336.3h0M649.7 333.7h0M649.8 339.6h0M650.0 340.0h0M650.2 335.4h0M650.4 335.7h0M650.5 339.7h0M650.7 336.8h0M650.9 332.7h0M651.1 335.7h0M651.3 333.0h0M651.4 333.1h0M651.6 337.5h0M651.8 342.7h0M651.9 337.6h0M652.1 333.8h0M652.3 336.2h0M652.5 333.4h0M652.6 341.1h0M652.8 338.5h0M653.0 342.6h0M653.2 341.0h0M653.3 345.0h0M653.5 341.8h0M653.7 343.1h0M653.8 338.8h0M654.0 336.5h0M654.2 335.7h0M654.3 335.0h0M654.5 339.8h0M654.7 342.4h0M654.8 338.0h0M655.0 341.7h0M655.2 344.1h0M655.4 341.3h0M655.5 336.9h0M655.7 335.8h0M655.8 336.9h0M656.0 337.3h0M656.2 337.0h0M656.3 336.2h0M656.5 336.4h0M656.7 336.5h0M656.8 338.7h0M657.0 343.0h0M657.2 347.1h0M657.3 347.6h0M657.5 347.7h0M657.6 347.9h0M657.8 348.0h0M658.0 344.7h0M658.1 339.2h0M658.3 340.0h0M658.5 341.9h0M658.6 342.7h0M658.8 346.7h0M658.9 348.7h0M659.1 348.8h0M659.2 348.9h0M659.4 349.0h0M659.6 347.1h0M659.7 347.1h0" stroke="#f00" stroke-width="7.4" stroke-linecap="round" fill="none"/>
<path d="M116.5 189.1 L171.0 204.9 L202.9 211.0 L225.5 221.1 L243.1 225.1 L257.4 230.3 L269.5 232.4 L280.0 238.2 L289.3 240.5 L297.6 244.6 L305.1 246.2 L311.9 249.1 L318.2 250.2 L324.1 252.8 L329.5 253.8 L334.6 256.7 L339.3 257.8 L343.8 260.2 L348.1 261.2 L352.1 262.7 L356.0 263.2 L359.6 264.7 L363.1 265.2 L366.5 266.6 L369.7 267.1 L372.8 268.0 L375.7 268.4 L378.6 269.3 L381.3 269.6 L384.0 270.5 L386.6 270.8 L389.1 272.4 L391.5 273.0 L393.9 274.0 L396.1 274.4 L398.3 275.8 L400.5 276.4 L402.6 277.5 L404.6 277.9 L406.6 278.9 L408.6 279.3 L410.5 280.1 L412.3 280.4 L414.1 280.4 L415.9 280.4 L417.6 281.5 L419.3 281.9 L421.0 283.9 L422.6 284.7 L424.2 285.5 L425.7 285.9 L427.3 285.4 L428.8 285.2 L430.2 284.9 L431.7 284.7 L433.1 286.2 L434.5 286.8 L435.9 286.8 L437.2 286.8 L438.5 288.1 L439.8 288.6 L442.4 288.5 L444.8 291.4 L447.2 290.8 L449.5 293.1 L451.8 294.7 L453.9 292.2 L456.1 291.3 L458.1 292.3 L460.2 293.5 L462.1 294.6 L464.0 297.3 L465.9 300.1 L467.7 297.4 L469.5 300.2 L471.3 298.5 L473.0 297.0 L474.7 297.2 L476.3 297.4 L477.9 301.2 L479.5 300.8 L481.0 303.4 L482.5 300.3 L484.0 301.7 L485.5 302.8 L486.9 303.5 L488.3 300.8 L489.7 300.9 L491.0 303.4 L492.4 302.2 L493.7 303.5 L495.0 303.8 L496.3 303.9 L497.5 303.8 L498.7 301.8 L499.9 305.5 L501.1 302.5 L502.3 304.1 L503.5 304.0 L504.6 305.7 L505.7 307.5 L506.8 304.3 L507.9 307.9 L509.0 310.4 L510.1 310.5 L511.1 310.5 L512.1 309.8 L513.2 310.6 L514.2 312.1 L515.2 308.2 L516.2 312.1 L517.1 307.7 L518.1 305.7 L519.0 308.7 L520.0 306.8 L520.9 308.9 L521.8 313.1 L522.7 308.4 L523.6 306.9 L524.5 307.2 L525.4 310.1 L526.2 311.4 L527.1 309.4 L527.9 309.3 L528.8 313.1 L529.6 310.5 L530.4 310.2 L531.2 309.6 L532.0 309.3 L532.8 313.5 L533.6 312.2 L534.4 310.0 L535.2 311.4 L535.9 317.2 L536.7 318.9 L537.4 316.9 L538.2 320.3 L538.9 317.6 L539.6 316.5 L540.4 316.2 L541.1 320.6 L541.8 321.9 L542.5 317.6 L543.2 316.6 L543.9 319.2 L544.6 322.2 L545.2 321.7 L545.9 321.0 L546.6 320.1 L547.2 319.7 L547.9 317.3 L548.5 316.9 L549.2 322.8 L549.8 323.5 L550.5 320.5 L551.1 320.3 L551.7 318.7 L552.3 322.5 L552.9 321.5 L553.5 324.1 L554.2 324.8 L554.8 319.6 L555.3 323.7 L555.9 327.1 L556.5 326.0 L557.1 325.9 L557.7 323.7 L558.3 320.2 L558.8 319.6 L559.4 314.2 L560.0 322.0 L560.5 319.1 L561.1 320.7 L561.6 326.0 L562.2 328.3 L562.7 328.4 L563.2 328.5 L563.8 328.6 L564.3 328.7 L564.8 328.8 L565.4 328.8 L565.9 324.5 L566.4 325.5 L566.9 328.9 L567.4 326.0 L567.9 323.1 L568.4 319.0 L568.9 321.4 L569.4 323.7 L569.9 328.5 L570.4 323.5 L570.9 328.7 L571.4 329.8 L571.9 326.8 L572.4 323.6 L572.8 328.4 L573.3 329.8 L573.8 325.3 L574.3 329.7 L574.7 330.3 L575.2 329.0 L575.6 325.2 L576.1 321.8 L576.6 320.1 L577.0 320.2 L577.5 325.7 L577.9 329.6 L578.3 330.4 L578.8 330.9 L579.2 331.0 L579.7 331.0 L580.1 329.9 L580.5 324.9 L581.0 325.2 L581.4 322.2 L581.8 321.4 L582.2 325.2 L582.7 323.9 L583.1 321.7 L583.5 328.0 L583.9 323.5 L584.3 321.2 L584.7 321.2 L585.1 321.5 L585.5 323.1 L585.9 328.3 L586.3 329.7 L586.7 325.3 L587.1 322.8 L587.5 328.6 L587.9 332.3 L588.3 329.6 L588.7 332.1 L589.1 331.3 L589.5 331.1 L589.9 329.9 L590.2 332.6 L590.6 328.5 L591.0 324.8 L591.4 323.9 L591.8 324.9 L592.1 331.4 L592.5 326.3 L592.9 331.4 L593.2 326.4 L593.6 326.6 L594.0 325.6 L594.3 327.6 L594.7 332.6 L595.1 328.0 L595.4 327.4 L595.8 333.5 L596.1 328.1 L596.5 327.3 L596.8 332.0 L597.2 337.6 L597.5 337.4 L597.9 332.6 L598.2 328.7 L598.6 331.1 L598.9 330.2 L599.2 334.2 L599.6 331.6 L599.9 332.4 L600.2 331.9 L600.6 338.1 L600.9 336.3 L601.2 333.2 L601.6 330.6 L601.9 333.9 L602.2 336.5 L602.6 334.8 L602.9 338.7 L603.2 340.3 L603.5 336.7 L603.9 338.6 L604.2 337.8 L604.5 336.6 L604.8 333.4 L605.1 333.3 L605.4 337.0 L605.8 333.2 L606.1 333.1 L606.4 333.1 L606.7 333.2 L607.0 333.2 L607.3 333.3 L607.6 335.2 L607.9 341.7 L608.2 337.7 L608.5 342.9 L608.8 347.9 L609.1 344.4 L609.4 338.6 L609.7 335.1 L610.0 337.2 L610.3 336.6 L610.6 341.2 L610.9 335.7 L611.2 334.3 L611.5 337.1 L611.8 339.4 L612.1 338.0 L612.3 343.3 L612.6 340.3 L612.9 334.6 L613.2 340.1 L613.5 340.4 L613.8 344.9 L614.1 345.2 L614.3 345.3 L614.6 340.9 L614.9 344.8 L615.2 345.3 L615.5 341.7 L615.7 336.9 L616.0 335.6 L616.3 335.8 L616.5 336.1 L616.8 336.3 L617.1 336.6 L617.4 339.0 L617.6 337.1 L617.9 337.4 L618.2 339.7 L618.4 343.7 L618.7 347.2 L619.0 346.8 L619.2 346.8 L619.5 341.1 L619.8 343.3 L620.0 344.0 L620.3 340.1 L620.5 339.9 L620.8 342.4 L621.1 347.4 L621.3 345.4 L621.6 344.9 L621.8 349.1 L622.1 343.6 L622.3 347.8 L622.6 350.3 L622.8 345.6 L623.1 342.3 L623.3 345.5 L623.6 345.3 L623.8 348.5 L624.1 347.8 L624.3 354.3 L624.6 349.9 L624.8 354.2 L625.1 350.4 L625.3 348.6 L625.6 349.4 L625.8 346.2 L626.0 349.7 L626.3 345.4 L626.5 352.2 L626.8 355.7 L627.0 354.1 L627.2 348.9 L627.5 350.5 L627.7 348.0 L627.9 351.8 L628.2 349.5 L628.4 352.8 L628.7 352.5 L628.9 353.3 L629.1 352.4 L629.4 352.5 L629.6 352.9 L629.8 357.0 L630.0 357.1 L630.3 354.7 L630.5 351.6 L630.7 349.7 L631.0 347.7 L631.2 347.4 L631.4 351.1 L631.6 355.4 L631.9 352.5 L632.1 349.2 L632.3 354.0 L632.5 358.1 L632.8 358.2 L633.0 358.3 L633.2 358.4 L633.4 358.2 L633.6 355.5 L633.9 351.3 L634.1 348.1 L634.3 349.6 L634.5 351.9 L634.7 351.0 L634.9 355.9 L635.2 352.8 L635.4 351.7 L635.6 353.3 L635.8 350.1 L636.0 352.1 L636.2 348.9 L636.4 349.0 L636.6 349.1 L636.9 350.1 L637.1 350.0 L637.3 356.1 L637.5 358.7 L637.7 356.0 L637.9 351.2 L638.1 357.9 L638.3 354.0 L638.5 351.1 L638.7 350.0 L638.9 351.8 L639.1 356.6 L639.3 357.4 L639.5 354.0 L639.8 359.2 L640.0 358.2 L640.2 357.3 L640.4 360.3 L640.6 357.1 L640.8 359.3 L641.0 356.3 L641.2 356.7 L641.4 360.8 L641.6 358.8 L641.8 354.0 L642.0 353.7 L642.2 356.0 L642.3 360.8 L642.5 354.2 L642.7 354.4 L642.9 357.3 L643.1 357.3 L643.3 356.6 L643.5 357.3 L643.7 351.9 L643.9 352.1 L644.1 352.2 L644.3 351.3 L644.5 351.6 L644.7 357.2 L644.9 360.2 L645.1 360.0 L645.2 353.6 L645.4 358.0 L645.6 352.6 L645.8 352.8 L646.0 355.3 L646.2 360.3 L646.4 360.4 L646.6 356.5 L646.7 360.5 L646.9 361.4 L647.1 358.5 L647.3 355.4 L647.5 355.0 L647.7 359.6 L647.8 362.5 L648.0 362.7 L648.2 362.8 L648.4 362.8 L648.6 357.3 L648.8 354.0 L648.9 359.2 L649.1 362.2 L649.3 361.1 L649.5 361.2 L649.7 354.7 L649.8 356.5 L650.0 354.8 L650.2 359.2 L650.4 361.6 L650.5 363.2 L650.7 360.9 L650.9 361.3 L651.1 356.7 L651.3 357.6 L651.4 355.8 L651.6 356.3 L651.8 357.3 L651.9 361.0 L652.1 356.6 L652.3 358.1 L652.5 365.0 L652.6 363.6 L652.8 362.7 L653.0 363.6 L653.2 363.7 L653.3 360.5 L653.5 356.2 L653.7 361.6 L653.8 360.7 L654.0 358.0 L654.2 361.4 L654.3 359.5 L654.5 357.7 L654.7 363.1 L654.8 357.0 L655.0 355.3 L655.2 358.8 L655.4 358.1 L655.5 359.4 L655.7 361.2 L655.8 357.8 L656.0 354.1 L656.2 353.4 L656.3 358.1 L656.5 354.9 L656.7 357.5 L656.8 357.8 L657.0 356.2 L657.2 356.7 L657.3 353.6 L657.5 353.6 L657.6 353.7 L657.8 353.7 L658.0 353.7 L658.1 356.9 L658.3 353.8 L658.5 354.8 L658.6 355.0 L658.8 357.5 L658.9 354.4 L659.1 361.5 L659.2 362.9 L659.4 360.9 L659.6 363.4 L659.7 364.6" fill="none" stroke="#00f" stroke-width="1.3" stroke-linejoin="round"/>
<path d="M116.5 184.3l4.5 7.8h-9.0zM202.9 206.2l4.5 7.8h-9.0zM243.1 220.3l4.5 7.8h-9.0zM269.5 227.6l4.5 7.8h-9.0zM289.3 235.7l4.5 7.8h-9.0zM305.1 241.4l4.5 7.8h-9.0zM318.2 245.4l4.5 7.8h-9.0zM329.5 249.0l4.5 7.8h-9.0zM339.3 253.0l4.5 7.8h-9.0zM348.1 256.4l4.5 7.8h-9.0zM356.0 258.4l4.5 7.8h-9.0zM363.1 260.4l4.5 7.8h-9.0zM369.7 262.3l4.5 7.8h-9.0zM375.7 263.6l4.5 7.8h-9.0zM381.3 264.8l4.5 7.8h-9.0zM386.6 266.0l4.5 7.8h-9.0zM391.5 268.2l4.5 7.8h-9.0zM396.1 269.6l4.5 7.8h-9.0zM400.5 271.6l4.5 7.8h-9.0zM404.6 273.1l4.5 7.8h-9.0zM408.6 274.5l4.5 7.8h-9.0zM412.3 275.6l4.5 7.8h-9.0zM415.9 275.6l4.5 7.8h-9.0zM419.3 277.1l4.5 7.8h-9.0zM422.6 279.9l4.5 7.8h-9.0zM425.7 281.1l4.5 7.8h-9.0zM428.8 280.4l4.5 7.8h-9.0zM431.7 279.9l4.5 7.8h-9.0zM434.5 282.0l4.5 7.8h-9.0zM437.2 282.0l4.5 7.8h-9.0zM439.8 283.8l4.5 7.8h-9.0zM442.4 283.7l4.5 7.8h-9.0zM444.8 286.6l4.5 7.8h-9.0zM447.2 286.0l4.5 7.8h-9.0zM449.5 288.3l4.5 7.8h-9.0zM451.8 289.9l4.5 7.8h-9.0zM453.9 287.4l4.5 7.8h-9.0zM456.1 286.5l4.5 7.8h-9.0zM458.1 287.5l4.5 7.8h-9.0zM460.2 288.7l4.5 7.8h-9.0zM462.1 289.8l4.5 7.8h-9.0zM464.0 292.5l4.5 7.8h-9.0zM465.9 295.3l4.5 7.8h-9.0zM467.7 292.6l4.5 7.8h-9.0zM469.5 295.4l4.5 7.8h-9.0zM471.3 293.7l4.5 7.8h-9.0zM473.0 292.2l4.5 7.8h-9.0zM474.7 292.4l4.5 7.8h-9.0zM476.3 292.6l4.5 7.8h-9.0zM477.9 296.4l4.5 7.8h-9.0zM479.5 296.0l4.5 7.8h-9.0zM481.0 298.6l4.5 7.8h-9.0zM482.5 295.5l4.5 7.8h-9.0zM484.0 296.9l4.5 7.8h-9.0zM485.5 298.0l4.5 7.8h-9.0zM486.9 298.7l4.5 7.8h-9.0zM488.3 296.0l4.5 7.8h-9.0zM489.7 296.1l4.5 7.8h-9.0zM491.0 298.6l4.5 7.8h-9.0zM492.4 297.4l4.5 7.8h-9.0zM493.7 298.7l4.5 7.8h-9.0zM495.0 299.0l4.5 7.8h-9.0zM496.3 299.1l4.5 7.8h-9.0zM497.5 299.0l4.5 7.8h-9.0zM498.7 297.0l4.5 7.8h-9.0zM499.9 300.7l4.5 7.8h-9.0zM501.1 297.7l4.5 7.8h-9.0zM502.3 299.3l4.5 7.8h-9.0zM503.5 299.2l4.5 7.8h-9.0zM504.6 300.9l4.5 7.8h-9.0zM505.7 302.7l4.5 7.8h-9.0zM506.8 299.5l4.5 7.8h-9.0zM507.9 303.1l4.5 7.8h-9.0zM509.0 305.6l4.5 7.8h-9.0zM510.1 305.7l4.5 7.8h-9.0zM511.1 305.7l4.5 7.8h-9.0zM512.1 305.0l4.5 7.8h-9.0zM513.2 305.8l4.5 7.8h-9.0zM514.2 307.3l4.5 7.8h-9.0zM515.2 303.4l4.5 7.8h-9.0zM516.2 307.3l4.5 7.8h-9.0zM517.1 302.9l4.5 7.8h-9.0zM518.1 300.9l4.5 7.8h-9.0zM519.0 303.9l4.5 7.8h-9.0zM520.0 302.0l4.5 7.8h-9.0zM520.9 304.1l4.5 7.8h-9.0zM521.8 308.3l4.5 7.8h-9.0zM522.7 303.6l4.5 7.8h-9.0zM523.6 302.1l4.5 7.8h-9.0zM524.5 302.4l4.5 7.8h-9.0zM525.4 305.3l4.5 7.8h-9.0zM526.2 306.6l4.5 7.8h-9.0zM527.1 304.6l4.5 7.8h-9.0zM527.9 304.5l4.5 7.8h-9.0zM528.8 308.3l4.5 7.8h-9.0zM529.6 305.7l4.5 7.8h-9.0zM530.4 305.4l4.5 7.8h-9.0zM531.2 304.8l4.5 7.8h-9.0zM532.0 304.5l4.5 7.8h-9.0zM532.8 308.7l4.5 7.8h-9.0zM533.6 307.4l4.5 7.8h-9.0zM534.4 305.2l4.5 7.8h-9.0zM535.2 306.6l4.5 7.8h-9.0zM535.9 312.4l4.5 7.8h-9.0zM536.7 314.1l4.5 7.8h-9.0zM537.4 312.1l4.5 7.8h-9.0zM538.2 315.5l4.5 7.8h-9.0zM538.9 312.8l4.5 7.8h-9.0zM539.6 311.7l4.5 7.8h-9.0zM540.4 311.4l4.5 7.8h-9.0zM541.1 315.8l4.5 7.8h-9.0zM541.8 317.1l4.5 7.8h-9.0zM542.5 312.8l4.5 7.8h-9.0zM543.2 311.8l4.5 7.8h-9.0zM543.9 314.4l4.5 7.8h-9.0zM544.6 317.4l4.5 7.8h-9.0zM545.2 316.9l4.5 7.8h-9.0zM545.9 316.2l4.5 7.8h-9.0zM546.6 315.3l4.5 7.8h-9.0zM547.2 314.9l4.5 7.8h-9.0zM547.9 312.5l4.5 7.8h-9.0zM548.5 312.1l4.5 7.8h-9.0zM549.2 318.0l4.5 7.8h-9.0zM549.8 318.7l4.5 7.8h-9.0zM550.5 315.7l4.5 7.8h-9.0zM551.1 315.5l4.5 7.8h-9.0zM551.7 313.9l4.5 7.8h-9.0zM552.3 317.7l4.5 7.8h-9.0zM552.9 316.7l4.5 7.8h-9.0zM553.5 319.3l4.5 7.8h-9.0zM554.2 320.0l4.5 7.8h-9.0zM554.8 314.8l4.5 7.8h-9.0zM555.3 318.9l4.5 7.8h-9.0zM555.9 322.3l4.5 7.8h-9.0zM556.5 321.2l4.5 7.8h-9.0zM557.1 321.1l4.5 7.8h-9.0zM557.7 318.9l4.5 7.8h-9.0zM558.3 315.4l4.5 7.8h-9.0zM558.8 314.8l4.5 7.8h-9.0zM559.4 309.4l4.5 7.8h-9.0zM560.0 317.2l4.5 7.8h-9.0zM560.5 314.3l4.5 7.8h-9.0zM561.1 315.9l4.5 7.8h-9.0zM561.6 321.2l4.5 7.8h-9.0zM562.2 323.5l4.5 7.8h-9.0zM562.7 323.6l4.5 7.8h-9.0zM563.2 323.7l4.5 7.8h-9.0zM563.8 323.8l4.5 7.8h-9.0zM564.3 323.9l4.5 7.8h-9.0zM564.8 324.0l4.5 7.8h-9.0zM565.4 324.0l4.5 7.8h-9.0zM565.9 319.7l4.5 7.8h-9.0zM566.4 320.7l4.5 7.8h-9.0zM566.9 324.1l4.5 7.8h-9.0zM567.4 321.2l4.5 7.8h-9.0zM567.9 318.3l4.5 7.8h-9.0zM568.4 314.2l4.5 7.8h-9.0zM568.9 316.6l4.5 7.8h-9.0zM569.4 318.9l4.5 7.8h-9.0zM569.9 323.7l4.5 7.8h-9.0zM570.4 318.7l4.5 7.8h-9.0zM570.9 323.9l4.5 7.8h-9.0zM571.4 325.0l4.5 7.8h-9.0zM571.9 322.0l4.5 7.8h-9.0zM572.4 318.8l4.5 7.8h-9.0zM572.8 323.6l4.5 7.8h-9.0zM573.3 325.0l4.5 7.8h-9.0zM573.8 320.5l4.5 7.8h-9.0zM574.3 324.9l4.5 7.8h-9.0zM574.7 325.5l4.5 7.8h-9.0zM575.2 324.2l4.5 7.8h-9.0zM575.6 320.4l4.5 7.8h-9.0zM576.1 317.0l4.5 7.8h-9.0zM576.6 315.3l4.5 7.8h-9.0zM577.0 315.4l4.5 7.8h-9.0zM577.5 320.9l4.5 7.8h-9.0zM577.9 324.8l4.5 7.8h-9.0zM578.3 325.6l4.5 7.8h-9.0zM578.8 326.1l4.5 7.8h-9.0zM579.2 326.2l4.5 7.8h-9.0zM579.7 326.2l4.5 7.8h-9.0zM580.1 325.1l4.5 7.8h-9.0zM580.5 320.1l4.5 7.8h-9.0zM581.0 320.4l4.5 7.8h-9.0zM581.4 317.4l4.5 7.8h-9.0zM581.8 316.6l4.5 7.8h-9.0zM582.2 320.4l4.5 7.8h-9.0zM582.7 319.1l4.5 7.8h-9.0zM583.1 316.9l4.5 7.8h-9.0zM583.5 323.2l4.5 7.8h-9.0zM583.9 318.7l4.5 7.8h-9.0zM584.3 316.4l4.5 7.8h-9.0zM584.7 316.4l4.5 7.8h-9.0zM585.1 316.7l4.5 7.8h-9.0zM585.5 318.3l4.5 7.8h-9.0zM585.9 323.5l4.5 7.8h-9.0zM586.3 324.9l4.5 7.8h-9.0zM586.7 320.5l4.5 7.8h-9.0zM587.1 318.0l4.5 7.8h-9.0zM587.5 323.8l4.5 7.8h-9.0zM587.9 327.5l4.5 7.8h-9.0zM588.3 324.8l4.5 7.8h-9.0zM588.7 327.3l4.5 7.8h-9.0zM589.1 326.5l4.5 7.8h-9.0zM589.5 326.3l4.5 7.8h-9.0zM589.9 325.1l4.5 7.8h-9.0zM590.2 327.8l4.5 7.8h-9.0zM590.6 323.7l4.5 7.8h-9.0zM591.0 320.0l4.5 7.8h-9.0zM591.4 319.1l4.5 7.8h-9.0zM591.8 320.1l4.5 7.8h-9.0zM592.1 326.6l4.5 7.8h-9.0zM592.5 321.5l4.5 7.8h-9.0zM592.9 326.6l4.5 7.8h-9.0zM593.2 321.6l4.5 7.8h-9.0zM593.6 321.8l4.5 7.8h-9.0zM594.0 320.8l4.5 7.8h-9.0zM594.3 322.8l4.5 7.8h-9.0zM594.7 327.8l4.5 7.8h-9.0zM595.1 323.2l4.5 7.8h-9.0zM595.4 322.6l4.5 7.8h-9.0zM595.8 328.7l4.5 7.8h-9.0zM596.1 323.3l4.5 7.8h-9.0zM596.5 322.5l4.5 7.8h-9.0zM596.8 327.2l4.5 7.8h-9.0zM597.2 332.8l4.5 7.8h-9.0zM597.5 332.6l4.5 7.8h-9.0zM597.9 327.8l4.5 7.8h-9.0zM598.2 323.9l4.5 7.8h-9.0zM598.6 326.3l4.5 7.8h-9.0zM598.9 325.4l4.5 7.8h-9.0zM599.2 329.4l4.5 7.8h-9.0zM599.6 326.8l4.5 7.8h-9.0zM599.9 327.6l4.5 7.8h-9.0zM600.2 327.1l4.5 7.8h-9.0zM600.6 333.3l4.5 7.8h-9.0zM600.9 331.5l4.5 7.8h-9.0zM601.2 328.4l4.5 7.8h-9.0zM601.6 325.8l4.5 7.8h-9.0zM601.9 329.1l4.5 7.8h-9.0zM602.2 331.7l4.5 7.8h-9.0zM602.6 330.0l4.5 7.8h-9.0zM602.9 333.9l4.5 7.8h-9.0zM603.2 335.5l4.5 7.8h-9.0zM603.5 331.9l4.5 7.8h-9.0zM603.9 333.8l4.5 7.8h-9.0zM604.2 333.0l4.5 7.8h-9.0zM604.5 331.8l4.5 7.8h-9.0zM604.8 328.6l4.5 7.8h-9.0zM605.1 328.5l4.5 7.8h-9.0zM605.4 332.2l4.5 7.8h-9.0zM605.8 328.4l4.5 7.8h-9.0zM606.1 328.3l4.5 7.8h-9.0zM606.4 328.3l4.5 7.8h-9.0zM606.7 328.4l4.5 7.8h-9.0zM607.0 328.4l4.5 7.8h-9.0zM607.3 328.5l4.5 7.8h-9.0zM607.6 330.4l4.5 7.8h-9.0zM607.9 336.9l4.5 7.8h-9.0zM608.2 332.9l4.5 7.8h-9.0zM608.5 338.1l4.5 7.8h-9.0zM608.8 343.1l4.5 7.8h-9.0zM609.1 339.6l4.5 7.8h-9.0zM609.4 333.8l4.5 7.8h-9.0zM609.7 330.3l4.5 7.8h-9.0zM610.0 332.4l4.5 7.8h-9.0zM610.3 331.8l4.5 7.8h-9.0zM610.6 336.4l4.5 7.8h-9.0zM610.9 330.9l4.5 7.8h-9.0zM611.2 329.5l4.5 7.8h-9.0zM611.5 332.3l4.5 7.8h-9.0zM611.8 334.6l4.5 7.8h-9.0zM612.1 333.2l4.5 7.8h-9.0zM612.3 338.5l4.5 7.8h-9.0zM612.6 335.5l4.5 7.8h-9.0zM612.9 329.8l4.5 7.8h-9.0zM613.2 335.3l4.5 7.8h-9.0zM613.5 335.6l4.5 7.8h-9.0zM613.8 340.1l4.5 7.8h-9.0zM614.1 340.4l4.5 7.8h-9.0zM614.3 340.5l4.5 7.8h-9.0zM614.6 336.1l4.5 7.8h-9.0zM614.9 340.0l4.5 7.8h-9.0zM615.2 340.5l4.5 7.8h-9.0zM615.5 336.9l4.5 7.8h-9.0zM615.7 332.1l4.5 7.8h-9.0zM616.0 330.8l4.5 7.8h-9.0zM616.3 331.0l4.5 7.8h-9.0zM616.5 331.3l4.5 7.8h-9.0zM616.8 331.5l4.5 7.8h-9.0zM617.1 331.8l4.5 7.8h-9.0zM617.4 334.2l4.5 7.8h-9.0zM617.6 332.3l4.5 7.8h-9.0zM617.9 332.6l4.5 7.8h-9.0zM618.2 334.9l4.5 7.8h-9.0zM618.4 338.9l4.5 7.8h-9.0zM618.7 342.4l4.5 7.8h-9.0zM619.0 342.0l4.5 7.8h-9.0zM619.2 342.0l4.5 7.8h-9.0zM619.5 336.3l4.5 7.8h-9.0zM619.8 338.5l4.5 7.8h-9.0zM620.0 339.2l4.5 7.8h-9.0zM620.3 335.3l4.5 7.8h-9.0zM620.5 335.1l4.5 7.8h-9.0zM620.8 337.6l4.5 7.8h-9.0zM621.1 342.6l4.5 7.8h-9.0zM621.3 340.6l4.5 7.8h-9.0zM621.6 340.1l4.5 7.8h-9.0zM621.8 344.3l4.5 7.8h-9.0zM622.1 338.8l4.5 7.8h-9.0zM622.3 343.0l4.5 7.8h-9.0zM622.6 345.5l4.5 7.8h-9.0zM622.8 340.8l4.5 7.8h-9.0zM623.1 337.5l4.5 7.8h-9.0zM623.3 340.7l4.5 7.8h-9.0zM623.6 340.5l4.5 7.8h-9.0zM623.8 343.7l4.5 7.8h-9.0zM624.1 343.0l4.5 7.8h-9.0zM624.3 349.5l4.5 7.8h-9.0zM624.6 345.1l4.5 7.8h-9.0zM624.8 349.4l4.5 7.8h-9.0zM625.1 345.6l4.5 7.8h-9.0zM625.3 343.8l4.5 7.8h-9.0zM625.6 344.6l4.5 7.8h-9.0zM625.8 341.4l4.5 7.8h-9.0zM626.0 344.9l4.5 7.8h-9.0zM626.3 340.6l4.5 7.8h-9.0zM626.5 347.4l4.5 7.8h-9.0zM626.8 350.9l4.5 7.8h-9.0zM627.0 349.3l4.5 7.8h-9.0zM627.2 344.1l4.5 7.8h-9.0zM627.5 345.7l4.5 7.8h-9.0zM627.7 343.2l4.5 7.8h-9.0zM627.9 347.0l4.5 7.8h-9.0zM628.2 344.7l4.5 7.8h-9.0zM628.4 348.0l4.5 7.8h-9.0zM628.7 347.7l4.5 7.8h-9.0zM628.9 348.5l4.5 7.8h-9.0zM629.1 347.6l4.5 7.8h-9.0zM629.4 347.7l4.5 7.8h-9.0zM629.6 348.1l4.5 7.8h-9.0zM629.8 352.2l4.5 7.8h-9.0zM630.0 352.3l4.5 7.8h-9.0zM630.3 349.9l4.5 7.8h-9.0zM630.5 346.8l4.5 7.8h-9.0zM630.7 344.9l4.5 7.8h-9.0zM631.0 342.9l4.5 7.8h-9.0zM631.2 342.6l4.5 7.8h-9.0zM631.4 346.3l4.5 7.8h-9.0zM631.6 350.6l4.5 7.8h-9.0zM631.9 347.7l4.5 7.8h-9.0zM632.1 344.4l4.5 7.8h-9.0zM632.3 349.2l4.5 7.8h-9.0zM632.5 353.3l4.5 7.8h-9.0zM632.8 353.4l4.5 7.8h-9.0zM633.0 353.5l4.5 7.8h-9.0zM633.2 353.6l4.5 7.8h-9.0zM633.4 353.4l4.5 7.8h-9.0zM633.6 350.7l4.5 7.8h-9.0zM633.9 346.5l4.5 7.8h-9.0zM634.1 343.3l4.5 7.8h-9.0zM634.3 344.8l4.5 7.8h-9.0zM634.5 347.1l4.5 7.8h-9.0zM634.7 346.2l4.5 7.8h-9.0zM634.9 351.1l4.5 7.8h-9.0zM635.2 348.0l4.5 7.8h-9.0zM635.4 346.9l4.5 7.8h-9.0zM635.6 348.5l4.5 7.8h-9.0zM635.8 345.3l4.5 7.8h-9.0zM636.0 347.3l4.5 7.8h-9.0zM636.2 344.1l4.5 7.8h-9.0zM636.4 344.2l4.5 7.8h-9.0zM636.6 344.3l4.5 7.8h-9.0zM636.9 345.3l4.5 7.8h-9.0zM637.1 345.2l4.5 7.8h-9.0zM637.3 351.3l4.5 7.8h-9.0zM637.5 353.9l4.5 7.8h-9.0zM637.7 351.2l4.5 7.8h-9.0zM637.9 346.4l4.5 7.8h-9.0zM638.1 353.1l4.5 7.8h-9.0zM638.3 349.2l4.5 7.8h-9.0zM638.5 346.3l4.5 7.8h-9.0zM638.7 345.2l4.5 7.8h-9.0zM638.9 347.0l4.5 7.8h-9.0zM639.1 351.8l4.5 7.8h-9.0zM639.3 352.6l4.5 7.8h-9.0zM639.5 349.2l4.5 7.8h-9.0zM639.8 354.4l4.5 7.8h-9.0zM640.0 353.4l4.5 7.8h-9.0zM640.2 352.5l4.5 7.8h-9.0zM640.4 355.5l4.5 7.8h-9.0zM640.6 352.3l4.5 7.8h-9.0zM640.8 354.5l4.5 7.8h-9.0zM641.0 351.5l4.5 7.8h-9.0zM641.2 351.9l4.5 7.8h-9.0zM641.4 356.0l4.5 7.8h-9.0zM641.6 354.0l4.5 7.8h-9.0zM641.8 349.2l4.5 7.8h-9.0zM642.0 348.9l4.5 7.8h-9.0zM642.2 351.2l4.5 7.8h-9.0zM642.3 356.0l4.5 7.8h-9.0zM642.5 349.4l4.5 7.8h-9.0zM642.7 349.6l4.5 7.8h-9.0zM642.9 352.5l4.5 7.8h-9.0zM643.1 352.5l4.5 7.8h-9.0zM643.3 351.8l4.5 7.8h-9.0zM643.5 352.5l4.5 7.8h-9.0zM643.7 347.1l4.5 7.8h-9.0zM643.9 347.3l4.5 7.8h-9.0zM644.1 347.4l4.5 7.8h-9.0zM644.3 346.5l4.5 7.8h-9.0zM644.5 346.8l4.5 7.8h-9.0zM644.7 352.4l4.5 7.8h-9.0zM644.9 355.4l4.5 7.8h-9.0zM645.1 355.2l4.5 7.8h-9.0zM645.2 348.8l4.5 7.8h-9.0zM645.4 353.2l4.5 7.8h-9.0zM645.6 347.8l4.5 7.8h-9.0zM645.8 348.0l4.5 7.8h-9.0zM646.0 350.5l4.5 7.8h-9.0zM646.2 355.5l4.5 7.8h-9.0zM646.4 355.6l4.5 7.8h-9.0zM646.6 351.7l4.5 7.8h-9.0zM646.7 355.7l4.5 7.8h-9.0zM646.9 356.6l4.5 7.8h-9.0zM647.1 353.7l4.5 7.8h-9.0zM647.3 350.6l4.5 7.8h-9.0zM647.5 350.2l4.5 7.8h-9.0zM647.7 354.8l4.5 7.8h-9.0zM647.8 357.7l4.5 7.8h-9.0zM648.0 357.9l4.5 7.8h-9.0zM648.2 358.0l4.5 7.8h-9.0zM648.4 358.0l4.5 7.8h-9.0zM648.6 352.5l4.5 7.8h-9.0zM648.8 349.2l4.5 7.8h-9.0zM648.9 354.4l4.5 7.8h-9.0zM649.1 357.4l4.5 7.8h-9.0zM649.3 356.3l4.5 7.8h-9.0zM649.5 356.4l4.5 7.8h-9.0zM649.7 349.9l4.5 7.8h-9.0zM649.8 351.7l4.5 7.8h-9.0zM650.0 350.0l4.5 7.8h-9.0zM650.2 354.4l4.5 7.8h-9.0zM650.4 356.8l4.5 7.8h-9.0zM650.5 358.4l4.5 7.8h-9.0zM650.7 356.1l4.5 7.8h-9.0zM650.9 356.5l4.5 7.8h-9.0zM651.1 351.9l4.5 7.8h-9.0zM651.3 352.8l4.5 7.8h-9.0zM651.4 351.0l4.5 7.8h-9.0zM651.6 351.5l4.5 7.8h-9.0zM651.8 352.5l4.5 7.8h-9.0zM651.9 356.2l4.5 7.8h-9.0zM652.1 351.8l4.5 7.8h-9.0zM652.3 353.3l4.5 7.8h-9.0zM652.5 360.2l4.5 7.8h-9.0zM652.6 358.8l4.5 7.8h-9.0zM652.8 357.9l4.5 7.8h-9.0zM653.0 358.8l4.5 7.8h-9.0zM653.2 358.9l4.5 7.8h-9.0zM653.3 355.7l4.5 7.8h-9.0zM653.5 351.4l4.5 7.8h-9.0zM653.7 356.8l4.5 7.8h-9.0zM653.8 355.9l4.5 7.8h-9.0zM654.0 353.2l4.5 7.8h-9.0zM654.2 356.6l4.5 7.8h-9.0zM654.3 354.7l4.5 7.8h-9.0zM654.5 352.9l4.5 7.8h-9.0zM654.7 358.3l4.5 7.8h-9.0zM654.8 352.2l4.5 7.8h-9.0zM655.0 350.5l4.5 7.8h-9.0zM655.2 354.0l4.5 7.8h-9.0zM655.4 353.3l4.5 7.8h-9.0zM655.5 354.6l4.5 7.8h-9.0zM655.7 356.4l4.5 7.8h-9.0zM655.8 353.0l4.5 7.8h-9.0zM656.0 349.3l4.5 7.8h-9.0zM656.2 348.6l4.5 7.8h-9.0zM656.3 353.3l4.5 7.8h-9.0zM656.5 350.1l4.5 7.8h-9.0zM656.7 352.7l4.5 7.8h-9.0zM656.8 353.0l4.5 7.8h-9.0zM657.0 351.4l4.5 7.8h-9.0zM657.2 351.9l4.5 7.8h-9.0zM657.3 348.8l4.5 7.8h-9.0zM657.5 348.8l4.5 7.8h-9.0zM657.6 348.9l4.5 7.8h-9.0zM657.8 348.9l4.5 7.8h-9.0zM658.0 348.9l4.5 7.8h-9.0zM658.1 352.1l4.5 7.8h-9.0zM658.3 349.0l4.5 7.8h-9.0zM658.5 350.0l4.5 7.8h-9.0zM658.6 350.2l4.5 7.8h-9.0zM658.8 352.7l4.5 7.8h-9.0zM658.9 349.6l4.5 7.8h-9.0zM659.1 356.7l4.5 7.8h-9.0zM659.2 358.1l4.5 7.8h-9.0zM659.4 356.1l4.5 7.8h-9.0zM659.6 358.6l4.5 7.8h-9.0zM659.7 359.8l4.5 7.8h-9.0z" fill="#00f"/>
<path d="M116.5 175.3 L171.0 191.7 L202.9 198.0 L225.5 208.1 L243.1 212.1 L257.4 218.0 L269.5 220.3 L280.0 225.9 L289.3 228.1 L297.6 231.6 L305.1 232.9 L311.9 236.2 L318.2 237.5 L324.1 240.1 L329.5 241.1 L334.6 243.3 L339.3 244.1 L343.8 246.0 L348.1 246.7 L352.1 248.5 L356.0 249.2 L359.6 250.6 L363.1 251.1 L366.5 252.1 L369.7 252.5 L372.8 253.5 L375.7 253.8 L378.6 255.1 L381.3 255.6 L384.0 256.4 L386.6 256.6 L389.1 257.6 L391.5 258.0 L393.9 259.8 L396.1 260.5 L398.3 261.0 L400.5 261.2 L402.6 263.2 L404.6 263.9 L406.6 265.3 L408.6 265.8 L410.5 266.9 L412.3 267.3 L414.1 268.1 L415.9 268.5 L417.6 269.8 L419.3 270.4 L421.0 271.5 L422.6 271.9 L424.2 273.1 L425.7 273.6 L427.3 274.2 L428.8 274.5 L430.2 275.2 L431.7 275.5 L433.1 276.5 L434.5 276.9 L435.9 278.0 L437.2 278.5 L438.5 279.7 L439.8 280.1 L442.4 280.2 L444.8 283.0 L447.2 280.2 L449.5 280.3 L451.8 279.8 L453.9 281.5 L456.1 283.6 L458.1 286.3 L460.2 283.1 L462.1 282.8 L464.0 284.4 L465.9 286.5 L467.7 285.7 L469.5 284.0 L471.3 284.7 L473.0 285.4 L474.7 288.1 L476.3 291.9 L477.9 289.5 L479.5 291.4 L481.0 290.8 L482.5 289.6 L484.0 292.6 L485.5 291.2 L486.9 292.5 L488.3 293.8 L489.7 292.7 L491.0 294.1 L492.4 294.2 L493.7 299.8 L495.0 296.5 L496.3 294.5 L497.5 293.3 L498.7 294.9 L499.9 294.2 L501.1 291.2 L502.3 294.8 L503.5 293.0 L504.6 292.1 L505.7 293.3 L506.8 292.0 L507.9 292.2 L509.0 293.6 L510.1 292.6 L511.1 295.7 L512.1 296.1 L513.2 293.6 L514.2 293.4 L515.2 297.9 L516.2 296.2 L517.1 298.4 L518.1 297.3 L519.0 296.2 L520.0 295.4 L520.9 296.3 L521.8 296.8 L522.7 297.6 L523.6 301.3 L524.5 296.6 L525.4 300.4 L526.2 304.6 L527.1 305.2 L527.9 305.3 L528.8 301.5 L529.6 297.1 L530.4 298.9 L531.2 303.6 L532.0 298.7 L532.8 296.9 L533.6 298.7 L534.4 302.8 L535.2 299.2 L535.9 301.2 L536.7 297.9 L537.4 298.1 L538.2 298.3 L538.9 298.5 L539.6 298.7 L540.4 299.2 L541.1 300.3 L541.8 299.6 L542.5 305.6 L543.2 297.9 L543.9 299.8 L544.6 299.9 L545.2 300.1 L545.9 300.3 L546.6 300.4 L547.2 300.7 L547.9 308.2 L548.5 307.6 L549.2 309.1 L549.8 309.3 L550.5 311.8 L551.1 309.4 L551.7 308.7 L552.3 307.5 L552.9 307.3 L553.5 308.1 L554.2 303.5 L554.8 304.7 L555.3 311.2 L555.9 314.5 L556.5 309.8 L557.1 305.4 L557.7 308.8 L558.3 312.3 L558.8 313.8 L559.4 307.8 L560.0 303.9 L560.5 305.6 L561.1 311.2 L561.6 314.4 L562.2 312.3 L562.7 316.1 L563.2 315.9 L563.8 308.7 L564.3 309.7 L564.8 305.9 L565.4 312.8 L565.9 310.2 L566.4 314.3 L566.9 309.6 L567.4 311.7 L567.9 310.5 L568.4 309.9 L568.9 309.8 L569.4 310.7 L569.9 310.3 L570.4 307.4 L570.9 312.2 L571.4 312.5 L571.9 314.1 L572.4 309.7 L572.8 313.7 L573.3 313.6 L573.8 315.8 L574.3 312.2 L574.7 313.6 L575.2 310.6 L575.6 316.7 L576.1 317.7 L576.6 319.2 L577.0 315.0 L577.5 309.3 L577.9 309.9 L578.3 310.1 L578.8 314.7 L579.2 319.9 L579.7 318.8 L580.1 320.1 L580.5 318.9 L581.0 319.6 L581.4 316.6 L581.8 320.4 L582.2 315.6 L582.7 317.8 L583.1 320.7 L583.5 316.4 L583.9 313.3 L584.3 316.4 L584.7 320.4 L585.1 321.2 L585.5 319.1 L585.9 313.5 L586.3 318.3 L586.7 316.1 L587.1 321.0 L587.5 316.5 L587.9 318.4 L588.3 317.9 L588.7 315.9 L589.1 312.1 L589.5 313.8 L589.9 312.9 L590.2 317.3 L590.6 316.4 L591.0 319.2 L591.4 323.9 L591.8 317.8 L592.1 316.7 L592.5 318.1 L592.9 322.5 L593.2 320.0 L593.6 321.7 L594.0 317.7 L594.3 320.5 L594.7 325.2 L595.1 321.7 L595.4 322.5 L595.8 323.6 L596.1 320.7 L596.5 316.4 L596.8 321.3 L597.2 324.2 L597.5 320.8 L597.9 327.8 L598.2 327.2 L598.6 323.6 L598.9 323.7 L599.2 321.9 L599.6 318.2 L599.9 317.5 L600.2 322.0 L600.6 319.3 L600.9 320.2 L601.2 325.1 L601.6 325.8 L601.9 324.1 L602.2 324.6 L602.6 321.4 L602.9 330.0 L603.2 330.3 L603.5 328.9 L603.9 328.9 L604.2 329.6 L604.5 331.0 L604.8 330.6 L605.1 323.4 L605.4 326.2 L605.8 326.5 L606.1 323.1 L606.4 320.7 L606.7 323.9 L607.0 325.8 L607.3 330.4 L607.6 332.2 L607.9 325.4 L608.2 323.3 L608.5 325.3 L608.8 324.3 L609.1 327.7 L609.4 331.6 L609.7 333.3 L610.0 333.5 L610.3 333.6 L610.6 333.7 L610.9 333.8 L611.2 324.8 L611.5 331.0 L611.8 329.8 L612.1 333.2 L612.3 335.2 L612.6 329.5 L612.9 333.7 L613.2 330.6 L613.5 330.5 L613.8 324.8 L614.1 326.8 L614.3 328.4 L614.6 324.2 L614.9 326.4 L615.2 324.6 L615.5 326.2 L615.7 331.9 L616.0 327.4 L616.3 325.7 L616.5 332.5 L616.8 329.6 L617.1 327.4 L617.4 326.8 L617.6 329.5 L617.9 328.8 L618.2 335.4 L618.4 339.0 L618.7 341.6 L619.0 335.0 L619.2 336.8 L619.5 333.4 L619.8 331.1 L620.0 332.6 L620.3 333.9 L620.5 339.0 L620.8 336.2 L621.1 334.7 L621.3 334.2 L621.6 336.7 L621.8 341.7 L622.1 339.1 L622.3 339.0 L622.6 341.6 L622.8 343.4 L623.1 340.5 L623.3 338.3 L623.6 341.8 L623.8 340.2 L624.1 338.2 L624.3 338.9 L624.6 343.8 L624.8 341.8 L625.1 339.3 L625.3 342.5 L625.6 337.4 L625.8 342.3 L626.0 345.7 L626.3 343.2 L626.5 344.8 L626.8 341.9 L627.0 340.6 L627.2 336.7 L627.5 335.8 L627.7 338.9 L627.9 336.1 L628.2 339.4 L628.4 336.3 L628.7 342.8 L628.9 343.2 L629.1 345.7 L629.4 347.3 L629.6 342.2 L629.8 338.1 L630.0 335.2 L630.3 342.7 L630.5 342.4 L630.7 346.0 L631.0 346.3 L631.2 348.3 L631.4 347.6 L631.6 342.1 L631.9 343.6 L632.1 340.8 L632.3 341.6 L632.5 338.7 L632.8 340.5 L633.0 342.5 L633.2 342.5 L633.4 344.3 L633.6 342.9 L633.9 342.0 L634.1 339.5 L634.3 339.7 L634.5 343.0 L634.7 348.5 L634.9 349.9 L635.2 348.0 L635.4 350.1 L635.6 348.5 L635.8 346.4 L636.0 350.1 L636.2 350.5 L636.4 346.0 L636.6 344.1 L636.9 344.1 L637.1 345.6 L637.3 348.1 L637.5 345.5 L637.7 344.0 L637.9 341.7 L638.1 345.8 L638.3 350.5 L638.5 351.5 L638.7 347.2 L638.9 346.9 L639.1 347.4 L639.3 350.5 L639.5 348.9 L639.8 351.1 L640.0 347.4 L640.2 343.2 L640.4 345.3 L640.6 339.7 L640.8 347.8 L641.0 351.9 L641.2 350.8 L641.4 347.5 L641.6 351.3 L641.8 351.0 L642.0 349.5 L642.2 350.5 L642.3 351.7 L642.5 342.9 L642.7 349.9 L642.9 346.3 L643.1 349.8 L643.3 352.3 L643.5 349.0 L643.7 344.9 L643.9 350.0 L644.1 349.4 L644.3 352.9 L644.5 352.3 L644.7 351.3 L644.9 347.9 L645.1 352.7 L645.2 350.7 L645.4 349.9 L645.6 349.4 L645.8 346.7 L646.0 348.1 L646.2 351.8 L646.4 354.2 L646.6 348.9 L646.7 349.8 L646.9 348.1 L647.1 352.4 L647.3 353.0 L647.5 352.1 L647.7 354.7 L647.8 350.8 L648.0 348.1 L648.2 351.8 L648.4 349.5 L648.6 353.7 L648.8 351.7 L648.9 348.4 L649.1 353.3 L649.3 350.2 L649.5 347.2 L649.7 350.8 L649.8 352.0 L650.0 347.8 L650.2 353.0 L650.4 350.5 L650.5 349.1 L650.7 347.3 L650.9 352.2 L651.1 355.3 L651.3 355.9 L651.4 355.9 L651.6 351.2 L651.8 349.0 L651.9 352.8 L652.1 348.9 L652.3 350.5 L652.5 348.1 L652.6 353.7 L652.8 350.3 L653.0 348.3 L653.2 353.2 L653.3 350.5 L653.5 355.3 L653.7 352.3 L653.8 356.0 L654.0 356.3 L654.2 351.2 L654.3 353.9 L654.5 354.1 L654.7 354.0 L654.8 353.9 L655.0 351.3 L655.2 355.4 L655.4 352.1 L655.5 355.3 L655.7 352.8 L655.8 349.7 L656.0 350.6 L656.2 346.9 L656.3 354.5 L656.5 354.4 L656.7 351.1 L656.8 351.8 L657.0 353.4 L657.2 353.7 L657.3 352.5 L657.5 353.9 L657.6 357.3 L657.8 358.1 L658.0 358.1 L658.1 355.2 L658.3 356.6 L658.5 356.9 L658.6 358.3 L658.8 357.3 L658.9 358.4 L659.1 357.5 L659.2 357.3 L659.4 355.8 L659.6 359.3 L659.7 358.7" fill="none" stroke="#008080" stroke-width="1.3" stroke-linejoin="round"/>
<path d="M116.5 179.9l4.5 -8.0h-9.0zM202.9 202.6l4.5 -8.0h-9.0zM243.1 216.7l4.5 -8.0h-9.0zM269.5 224.9l4.5 -8.0h-9.0zM289.3 232.7l4.5 -8.0h-9.0zM305.1 237.5l4.5 -8.0h-9.0zM318.2 242.1l4.5 -8.0h-9.0zM329.5 245.7l4.5 -8.0h-9.0zM339.3 248.7l4.5 -8.0h-9.0zM348.1 251.3l4.5 -8.0h-9.0zM356.0 253.8l4.5 -8.0h-9.0zM363.1 255.7l4.5 -8.0h-9.0zM369.7 257.1l4.5 -8.0h-9.0zM375.7 258.4l4.5 -8.0h-9.0zM381.3 260.2l4.5 -8.0h-9.0zM386.6 261.2l4.5 -8.0h-9.0zM391.5 262.6l4.5 -8.0h-9.0zM396.1 265.1l4.5 -8.0h-9.0zM400.5 265.8l4.5 -8.0h-9.0zM404.6 268.5l4.5 -8.0h-9.0zM408.6 270.4l4.5 -8.0h-9.0zM412.3 271.9l4.5 -8.0h-9.0zM415.9 273.1l4.5 -8.0h-9.0zM419.3 275.0l4.5 -8.0h-9.0zM422.6 276.5l4.5 -8.0h-9.0zM425.7 278.2l4.5 -8.0h-9.0zM428.8 279.1l4.5 -8.0h-9.0zM431.7 280.1l4.5 -8.0h-9.0zM434.5 281.5l4.5 -8.0h-9.0zM437.2 283.1l4.5 -8.0h-9.0zM439.8 284.7l4.5 -8.0h-9.0zM442.4 284.8l4.5 -8.0h-9.0zM444.8 287.6l4.5 -8.0h-9.0zM447.2 284.8l4.5 -8.0h-9.0zM449.5 284.9l4.5 -8.0h-9.0zM451.8 284.4l4.5 -8.0h-9.0zM453.9 286.1l4.5 -8.0h-9.0zM456.1 288.2l4.5 -8.0h-9.0zM458.1 290.9l4.5 -8.0h-9.0zM460.2 287.7l4.5 -8.0h-9.0zM462.1 287.4l4.5 -8.0h-9.0zM464.0 289.0l4.5 -8.0h-9.0zM465.9 291.1l4.5 -8.0h-9.0zM467.7 290.3l4.5 -8.0h-9.0zM469.5 288.6l4.5 -8.0h-9.0zM471.3 289.3l4.5 -8.0h-9.0zM473.0 290.0l4.5 -8.0h-9.0zM474.7 292.7l4.5 -8.0h-9.0zM476.3 296.5l4.5 -8.0h-9.0zM477.9 294.1l4.5 -8.0h-9.0zM479.5 296.0l4.5 -8.0h-9.0zM481.0 295.4l4.5 -8.0h-9.0zM482.5 294.2l4.5 -8.0h-9.0zM484.0 297.2l4.5 -8.0h-9.0zM485.5 295.8l4.5 -8.0h-9.0zM486.9 297.1l4.5 -8.0h-9.0zM488.3 298.4l4.5 -8.0h-9.0zM489.7 297.3l4.5 -8.0h-9.0zM491.0 298.7l4.5 -8.0h-9.0zM492.4 298.8l4.5 -8.0h-9.0zM493.7 304.4l4.5 -8.0h-9.0zM495.0 301.1l4.5 -8.0h-9.0zM496.3 299.1l4.5 -8.0h-9.0zM497.5 297.9l4.5 -8.0h-9.0zM498.7 299.5l4.5 -8.0h-9.0zM499.9 298.8l4.5 -8.0h-9.0zM501.1 295.8l4.5 -8.0h-9.0zM502.3 299.4l4.5 -8.0h-9.0zM503.5 297.6l4.5 -8.0h-9.0zM504.6 296.7l4.5 -8.0h-9.0zM505.7 297.9l4.5 -8.0h-9.0zM506.8 296.6l4.5 -8.0h-9.0zM507.9 296.8l4.5 -8.0h-9.0zM509.0 298.2l4.5 -8.0h-9.0zM510.1 297.2l4.5 -8.0h-9.0zM511.1 300.3l4.5 -8.0h-9.0zM512.1 300.7l4.5 -8.0h-9.0zM513.2 298.2l4.5 -8.0h-9.0zM514.2 298.0l4.5 -8.0h-9.0zM515.2 302.5l4.5 -8.0h-9.0zM516.2 300.8l4.5 -8.0h-9.0zM517.1 303.0l4.5 -8.0h-9.0zM518.1 301.9l4.5 -8.0h-9.0zM519.0 300.8l4.5 -8.0h-9.0zM520.0 300.0l4.5 -8.0h-9.0zM520.9 300.9l4.5 -8.0h-9.0zM521.8 301.4l4.5 -8.0h-9.0zM522.7 302.2l4.5 -8.0h-9.0zM523.6 305.9l4.5 -8.0h-9.0zM524.5 301.2l4.5 -8.0h-9.0zM525.4 305.0l4.5 -8.0h-9.0zM526.2 309.2l4.5 -8.0h-9.0zM527.1 309.8l4.5 -8.0h-9.0zM527.9 309.9l4.5 -8.0h-9.0zM528.8 306.1l4.5 -8.0h-9.0zM529.6 301.7l4.5 -8.0h-9.0zM530.4 303.5l4.5 -8.0h-9.0zM531.2 308.2l4.5 -8.0h-9.0zM532.0 303.3l4.5 -8.0h-9.0zM532.8 301.5l4.5 -8.0h-9.0zM533.6 303.3l4.5 -8.0h-9.0zM534.4 307.4l4.5 -8.0h-9.0zM535.2 303.8l4.5 -8.0h-9.0zM535.9 305.8l4.5 -8.0h-9.0zM536.7 302.5l4.5 -8.0h-9.0zM537.4 302.7l4.5 -8.0h-9.0zM538.2 302.9l4.5 -8.0h-9.0zM538.9 303.1l4.5 -8.0h-9.0zM539.6 303.3l4.5 -8.0h-9.0zM540.4 303.8l4.5 -8.0h-9.0zM541.1 304.9l4.5 -8.0h-9.0zM541.8 304.2l4.5 -8.0h-9.0zM542.5 310.2l4.5 -8.0h-9.0zM543.2 302.5l4.5 -8.0h-9.0zM543.9 304.4l4.5 -8.0h-9.0zM544.6 304.5l4.5 -8.0h-9.0zM545.2 304.7l4.5 -8.0h-9.0zM545.9 304.9l4.5 -8.0h-9.0zM546.6 305.0l4.5 -8.0h-9.0zM547.2 305.3l4.5 -8.0h-9.0zM547.9 312.8l4.5 -8.0h-9.0zM548.5 312.2l4.5 -8.0h-9.0zM549.2 313.7l4.5 -8.0h-9.0zM549.8 313.9l4.5 -8.0h-9.0zM550.5 316.4l4.5 -8.0h-9.0zM551.1 314.0l4.5 -8.0h-9.0zM551.7 313.3l4.5 -8.0h-9.0zM552.3 312.1l4.5 -8.0h-9.0zM552.9 311.9l4.5 -8.0h-9.0zM553.5 312.7l4.5 -8.0h-9.0zM554.2 308.1l4.5 -8.0h-9.0zM554.8 309.3l4.5 -8.0h-9.0zM555.3 315.8l4.5 -8.0h-9.0zM555.9 319.1l4.5 -8.0h-9.0zM556.5 314.4l4.5 -8.0h-9.0zM557.1 310.0l4.5 -8.0h-9.0zM557.7 313.4l4.5 -8.0h-9.0zM558.3 316.9l4.5 -8.0h-9.0zM558.8 318.4l4.5 -8.0h-9.0zM559.4 312.4l4.5 -8.0h-9.0zM560.0 308.5l4.5 -8.0h-9.0zM560.5 310.2l4.5 -8.0h-9.0zM561.1 315.8l4.5 -8.0h-9.0zM561.6 319.0l4.5 -8.0h-9.0zM562.2 316.9l4.5 -8.0h-9.0zM562.7 320.7l4.5 -8.0h-9.0zM563.2 320.5l4.5 -8.0h-9.0zM563.8 313.3l4.5 -8.0h-9.0zM564.3 314.3l4.5 -8.0h-9.0zM564.8 310.5l4.5 -8.0h-9.0zM565.4 317.4l4.5 -8.0h-9.0zM565.9 314.8l4.5 -8.0h-9.0zM566.4 318.9l4.5 -8.0h-9.0zM566.9 314.2l4.5 -8.0h-9.0zM567.4 316.3l4.5 -8.0h-9.0zM567.9 315.1l4.5 -8.0h-9.0zM568.4 314.5l4.5 -8.0h-9.0zM568.9 314.4l4.5 -8.0h-9.0zM569.4 315.3l4.5 -8.0h-9.0zM569.9 314.9l4.5 -8.0h-9.0zM570.4 312.0l4.5 -8.0h-9.0zM570.9 316.8l4.5 -8.0h-9.0zM571.4 317.1l4.5 -8.0h-9.0zM571.9 318.7l4.5 -8.0h-9.0zM572.4 314.3l4.5 -8.0h-9.0zM572.8 318.3l4.5 -8.0h-9.0zM573.3 318.2l4.5 -8.0h-9.0zM573.8 320.4l4.5 -8.0h-9.0zM574.3 316.8l4.5 -8.0h-9.0zM574.7 318.2l4.5 -8.0h-9.0zM575.2 315.2l4.5 -8.0h-9.0zM575.6 321.3l4.5 -8.0h-9.0zM576.1 322.3l4.5 -8.0h-9.0zM576.6 323.8l4.5 -8.0h-9.0zM577.0 319.6l4.5 -8.0h-9.0zM577.5 313.9l4.5 -8.0h-9.0zM577.9 314.5l4.5 -8.0h-9.0zM578.3 314.7l4.5 -8.0h-9.0zM578.8 319.3l4.5 -8.0h-9.0zM579.2 324.5l4.5 -8.0h-9.0zM579.7 323.4l4.5 -8.0h-9.0zM580.1 324.7l4.5 -8.0h-9.0zM580.5 323.5l4.5 -8.0h-9.0zM581.0 324.2l4.5 -8.0h-9.0zM581.4 321.2l4.5 -8.0h-9.0zM581.8 325.0l4.5 -8.0h-9.0zM582.2 320.2l4.5 -8.0h-9.0zM582.7 322.4l4.5 -8.0h-9.0zM583.1 325.3l4.5 -8.0h-9.0zM583.5 321.0l4.5 -8.0h-9.0zM583.9 317.9l4.5 -8.0h-9.0zM584.3 321.0l4.5 -8.0h-9.0zM584.7 325.0l4.5 -8.0h-9.0zM585.1 325.8l4.5 -8.0h-9.0zM585.5 323.7l4.5 -8.0h-9.0zM585.9 318.1l4.5 -8.0h-9.0zM586.3 322.9l4.5 -8.0h-9.0zM586.7 320.7l4.5 -8.0h-9.0zM587.1 325.6l4.5 -8.0h-9.0zM587.5 321.1l4.5 -8.0h-9.0zM587.9 323.0l4.5 -8.0h-9.0zM588.3 322.5l4.5 -8.0h-9.0zM588.7 320.5l4.5 -8.0h-9.0zM589.1 316.7l4.5 -8.0h-9.0zM589.5 318.4l4.5 -8.0h-9.0zM589.9 317.5l4.5 -8.0h-9.0zM590.2 321.9l4.5 -8.0h-9.0zM590.6 321.0l4.5 -8.0h-9.0zM591.0 323.8l4.5 -8.0h-9.0zM591.4 328.5l4.5 -8.0h-9.0zM591.8 322.4l4.5 -8.0h-9.0zM592.1 321.3l4.5 -8.0h-9.0zM592.5 322.7l4.5 -8.0h-9.0zM592.9 327.1l4.5 -8.0h-9.0zM593.2 324.6l4.5 -8.0h-9.0zM593.6 326.3l4.5 -8.0h-9.0zM594.0 322.3l4.5 -8.0h-9.0zM594.3 325.1l4.5 -8.0h-9.0zM594.7 329.8l4.5 -8.0h-9.0zM595.1 326.3l4.5 -8.0h-9.0zM595.4 327.1l4.5 -8.0h-9.0zM595.8 328.2l4.5 -8.0h-9.0zM596.1 325.3l4.5 -8.0h-9.0zM596.5 321.0l4.5 -8.0h-9.0zM596.8 325.9l4.5 -8.0h-9.0zM597.2 328.8l4.5 -8.0h-9.0zM597.5 325.4l4.5 -8.0h-9.0zM597.9 332.4l4.5 -8.0h-9.0zM598.2 331.8l4.5 -8.0h-9.0zM598.6 328.2l4.5 -8.0h-9.0zM598.9 328.3l4.5 -8.0h-9.0zM599.2 326.5l4.5 -8.0h-9.0zM599.6 322.8l4.5 -8.0h-9.0zM599.9 322.1l4.5 -8.0h-9.0zM600.2 326.6l4.5 -8.0h-9.0zM600.6 323.9l4.5 -8.0h-9.0zM600.9 324.8l4.5 -8.0h-9.0zM601.2 329.7l4.5 -8.0h-9.0zM601.6 330.4l4.5 -8.0h-9.0zM601.9 328.7l4.5 -8.0h-9.0zM602.2 329.2l4.5 -8.0h-9.0zM602.6 326.0l4.5 -8.0h-9.0zM602.9 334.6l4.5 -8.0h-9.0zM603.2 334.9l4.5 -8.0h-9.0zM603.5 333.5l4.5 -8.0h-9.0zM603.9 333.5l4.5 -8.0h-9.0zM604.2 334.2l4.5 -8.0h-9.0zM604.5 335.6l4.5 -8.0h-9.0zM604.8 335.2l4.5 -8.0h-9.0zM605.1 328.0l4.5 -8.0h-9.0zM605.4 330.8l4.5 -8.0h-9.0zM605.8 331.1l4.5 -8.0h-9.0zM606.1 327.7l4.5 -8.0h-9.0zM606.4 325.3l4.5 -8.0h-9.0zM606.7 328.5l4.5 -8.0h-9.0zM607.0 330.4l4.5 -8.0h-9.0zM607.3 335.0l4.5 -8.0h-9.0zM607.6 336.8l4.5 -8.0h-9.0zM607.9 330.0l4.5 -8.0h-9.0zM608.2 327.9l4.5 -8.0h-9.0zM608.5 329.9l4.5 -8.0h-9.0zM608.8 328.9l4.5 -8.0h-9.0zM609.1 332.3l4.5 -8.0h-9.0zM609.4 336.2l4.5 -8.0h-9.0zM609.7 337.9l4.5 -8.0h-9.0zM610.0 338.1l4.5 -8.0h-9.0zM610.3 338.2l4.5 -8.0h-9.0zM610.6 338.3l4.5 -8.0h-9.0zM610.9 338.4l4.5 -8.0h-9.0zM611.2 329.4l4.5 -8.0h-9.0zM611.5 335.6l4.5 -8.0h-9.0zM611.8 334.4l4.5 -8.0h-9.0zM612.1 337.8l4.5 -8.0h-9.0zM612.3 339.8l4.5 -8.0h-9.0zM612.6 334.1l4.5 -8.0h-9.0zM612.9 338.3l4.5 -8.0h-9.0zM613.2 335.2l4.5 -8.0h-9.0zM613.5 335.1l4.5 -8.0h-9.0zM613.8 329.4l4.5 -8.0h-9.0zM614.1 331.4l4.5 -8.0h-9.0zM614.3 333.0l4.5 -8.0h-9.0zM614.6 328.8l4.5 -8.0h-9.0zM614.9 331.0l4.5 -8.0h-9.0zM615.2 329.2l4.5 -8.0h-9.0zM615.5 330.8l4.5 -8.0h-9.0zM615.7 336.5l4.5 -8.0h-9.0zM616.0 332.0l4.5 -8.0h-9.0zM616.3 330.3l4.5 -8.0h-9.0zM616.5 337.1l4.5 -8.0h-9.0zM616.8 334.2l4.5 -8.0h-9.0zM617.1 332.0l4.5 -8.0h-9.0zM617.4 331.4l4.5 -8.0h-9.0zM617.6 334.1l4.5 -8.0h-9.0zM617.9 333.4l4.5 -8.0h-9.0zM618.2 340.0l4.5 -8.0h-9.0zM618.4 343.6l4.5 -8.0h-9.0zM618.7 346.2l4.5 -8.0h-9.0zM619.0 339.6l4.5 -8.0h-9.0zM619.2 341.4l4.5 -8.0h-9.0zM619.5 338.0l4.5 -8.0h-9.0zM619.8 335.7l4.5 -8.0h-9.0zM620.0 337.2l4.5 -8.0h-9.0zM620.3 338.5l4.5 -8.0h-9.0zM620.5 343.6l4.5 -8.0h-9.0zM620.8 340.8l4.5 -8.0h-9.0zM621.1 339.3l4.5 -8.0h-9.0zM621.3 338.8l4.5 -8.0h-9.0zM621.6 341.3l4.5 -8.0h-9.0zM621.8 346.3l4.5 -8.0h-9.0zM622.1 343.7l4.5 -8.0h-9.0zM622.3 343.6l4.5 -8.0h-9.0zM622.6 346.2l4.5 -8.0h-9.0zM622.8 348.0l4.5 -8.0h-9.0zM623.1 345.1l4.5 -8.0h-9.0zM623.3 342.9l4.5 -8.0h-9.0zM623.6 346.4l4.5 -8.0h-9.0zM623.8 344.8l4.5 -8.0h-9.0zM624.1 342.8l4.5 -8.0h-9.0zM624.3 343.5l4.5 -8.0h-9.0zM624.6 348.4l4.5 -8.0h-9.0zM624.8 346.4l4.5 -8.0h-9.0zM625.1 343.9l4.5 -8.0h-9.0zM625.3 347.1l4.5 -8.0h-9.0zM625.6 342.0l4.5 -8.0h-9.0zM625.8 346.9l4.5 -8.0h-9.0zM626.0 350.3l4.5 -8.0h-9.0zM626.3 347.8l4.5 -8.0h-9.0zM626.5 349.4l4.5 -8.0h-9.0zM626.8 346.5l4.5 -8.0h-9.0zM627.0 345.2l4.5 -8.0h-9.0zM627.2 341.3l4.5 -8.0h-9.0zM627.5 340.4l4.5 -8.0h-9.0zM627.7 343.5l4.5 -8.0h-9.0zM627.9 340.7l4.5 -8.0h-9.0zM628.2 344.0l4.5 -8.0h-9.0zM628.4 340.9l4.5 -8.0h-9.0zM628.7 347.4l4.5 -8.0h-9.0zM628.9 347.8l4.5 -8.0h-9.0zM629.1 350.3l4.5 -8.0h-9.0zM629.4 351.9l4.5 -8.0h-9.0zM629.6 346.8l4.5 -8.0h-9.0zM629.8 342.7l4.5 -8.0h-9.0zM630.0 339.8l4.5 -8.0h-9.0zM630.3 347.3l4.5 -8.0h-9.0zM630.5 347.0l4.5 -8.0h-9.0zM630.7 350.6l4.5 -8.0h-9.0zM631.0 350.9l4.5 -8.0h-9.0zM631.2 352.9l4.5 -8.0h-9.0zM631.4 352.2l4.5 -8.0h-9.0zM631.6 346.7l4.5 -8.0h-9.0zM631.9 348.2l4.5 -8.0h-9.0zM632.1 345.4l4.5 -8.0h-9.0zM632.3 346.2l4.5 -8.0h-9.0zM632.5 343.3l4.5 -8.0h-9.0zM632.8 345.1l4.5 -8.0h-9.0zM633.0 347.1l4.5 -8.0h-9.0zM633.2 347.1l4.5 -8.0h-9.0zM633.4 348.9l4.5 -8.0h-9.0zM633.6 347.5l4.5 -8.0h-9.0zM633.9 346.6l4.5 -8.0h-9.0zM634.1 344.1l4.5 -8.0h-9.0zM634.3 344.3l4.5 -8.0h-9.0zM634.5 347.6l4.5 -8.0h-9.0zM634.7 353.1l4.5 -8.0h-9.0zM634.9 354.5l4.5 -8.0h-9.0zM635.2 352.6l4.5 -8.0h-9.0zM635.4 354.7l4.5 -8.0h-9.0zM635.6 353.1l4.5 -8.0h-9.0zM635.8 351.0l4.5 -8.0h-9.0zM636.0 354.7l4.5 -8.0h-9.0zM636.2 355.1l4.5 -8.0h-9.0zM636.4 350.6l4.5 -8.0h-9.0zM636.6 348.7l4.5 -8.0h-9.0zM636.9 348.7l4.5 -8.0h-9.0zM637.1 350.2l4.5 -8.0h-9.0zM637.3 352.7l4.5 -8.0h-9.0zM637.5 350.1l4.5 -8.0h-9.0zM637.7 348.6l4.5 -8.0h-9.0zM637.9 346.3l4.5 -8.0h-9.0zM638.1 350.4l4.5 -8.0h-9.0zM638.3 355.1l4.5 -8.0h-9.0zM638.5 356.1l4.5 -8.0h-9.0zM638.7 351.8l4.5 -8.0h-9.0zM638.9 351.5l4.5 -8.0h-9.0zM639.1 352.0l4.5 -8.0h-9.0zM639.3 355.1l4.5 -8.0h-9.0zM639.5 353.5l4.5 -8.0h-9.0zM639.8 355.7l4.5 -8.0h-9.0zM640.0 352.0l4.5 -8.0h-9.0zM640.2 347.8l4.5 -8.0h-9.0zM640.4 349.9l4.5 -8.0h-9.0zM640.6 344.3l4.5 -8.0h-9.0zM640.8 352.4l4.5 -8.0h-9.0zM641.0 356.5l4.5 -8.0h-9.0zM641.2 355.4l4.5 -8.0h-9.0zM641.4 352.1l4.5 -8.0h-9.0zM641.6 355.9l4.5 -8.0h-9.0zM641.8 355.6l4.5 -8.0h-9.0zM642.0 354.1l4.5 -8.0h-9.0zM642.2 355.1l4.5 -8.0h-9.0zM642.3 356.3l4.5 -8.0h-9.0zM642.5 347.5l4.5 -8.0h-9.0zM642.7 354.5l4.5 -8.0h-9.0zM642.9 350.9l4.5 -8.0h-9.0zM643.1 354.4l4.5 -8.0h-9.0zM643.3 356.9l4.5 -8.0h-9.0zM643.5 353.6l4.5 -8.0h-9.0zM643.7 349.5l4.5 -8.0h-9.0zM643.9 354.6l4.5 -8.0h-9.0zM644.1 354.0l4.5 -8.0h-9.0zM644.3 357.5l4.5 -8.0h-9.0zM644.5 356.9l4.5 -8.0h-9.0zM644.7 355.9l4.5 -8.0h-9.0zM644.9 352.5l4.5 -8.0h-9.0zM645.1 357.3l4.5 -8.0h-9.0zM645.2 355.3l4.5 -8.0h-9.0zM645.4 354.5l4.5 -8.0h-9.0zM645.6 354.0l4.5 -8.0h-9.0zM645.8 351.3l4.5 -8.0h-9.0zM646.0 352.7l4.5 -8.0h-9.0zM646.2 356.4l4.5 -8.0h-9.0zM646.4 358.8l4.5 -8.0h-9.0zM646.6 353.5l4.5 -8.0h-9.0zM646.7 354.4l4.5 -8.0h-9.0zM646.9 352.7l4.5 -8.0h-9.0zM647.1 357.0l4.5 -8.0h-9.0zM647.3 357.6l4.5 -8.0h-9.0zM647.5 356.7l4.5 -8.0h-9.0zM647.7 359.3l4.5 -8.0h-9.0zM647.8 355.4l4.5 -8.0h-9.0zM648.0 352.7l4.5 -8.0h-9.0zM648.2 356.4l4.5 -8.0h-9.0zM648.4 354.1l4.5 -8.0h-9.0zM648.6 358.3l4.5 -8.0h-9.0zM648.8 356.3l4.5 -8.0h-9.0zM648.9 353.0l4.5 -8.0h-9.0zM649.1 357.9l4.5 -8.0h-9.0zM649.3 354.8l4.5 -8.0h-9.0zM649.5 351.8l4.5 -8.0h-9.0zM649.7 355.4l4.5 -8.0h-9.0zM649.8 356.6l4.5 -8.0h-9.0zM650.0 352.4l4.5 -8.0h-9.0zM650.2 357.6l4.5 -8.0h-9.0zM650.4 355.1l4.5 -8.0h-9.0zM650.5 353.7l4.5 -8.0h-9.0zM650.7 351.9l4.5 -8.0h-9.0zM650.9 356.8l4.5 -8.0h-9.0zM651.1 359.9l4.5 -8.0h-9.0zM651.3 360.5l4.5 -8.0h-9.0zM651.4 360.5l4.5 -8.0h-9.0zM651.6 355.8l4.5 -8.0h-9.0zM651.8 353.6l4.5 -8.0h-9.0zM651.9 357.4l4.5 -8.0h-9.0zM652.1 353.5l4.5 -8.0h-9.0zM652.3 355.1l4.5 -8.0h-9.0zM652.5 352.7l4.5 -8.0h-9.0zM652.6 358.3l4.5 -8.0h-9.0zM652.8 354.9l4.5 -8.0h-9.0zM653.0 352.9l4.5 -8.0h-9.0zM653.2 357.8l4.5 -8.0h-9.0zM653.3 355.1l4.5 -8.0h-9.0zM653.5 359.9l4.5 -8.0h-9.0zM653.7 356.9l4.5 -8.0h-9.0zM653.8 360.6l4.5 -8.0h-9.0zM654.0 360.9l4.5 -8.0h-9.0zM654.2 355.8l4.5 -8.0h-9.0zM654.3 358.5l4.5 -8.0h-9.0zM654.5 358.7l4.5 -8.0h-9.0zM654.7 358.6l4.5 -8.0h-9.0zM654.8 358.5l4.5 -8.0h-9.0zM655.0 355.9l4.5 -8.0h-9.0zM655.2 360.0l4.5 -8.0h-9.0zM655.4 356.7l4.5 -8.0h-9.0zM655.5 359.9l4.5 -8.0h-9.0zM655.7 357.4l4.5 -8.0h-9.0zM655.8 354.3l4.5 -8.0h-9.0zM656.0 355.2l4.5 -8.0h-9.0zM656.2 351.5l4.5 -8.0h-9.0zM656.3 359.1l4.5 -8.0h-9.0zM656.5 359.0l4.5 -8.0h-9.0zM656.7 355.7l4.5 -8.0h-9.0zM656.8 356.4l4.5 -8.0h-9.0zM657.0 358.0l4.5 -8.0h-9.0zM657.2 358.3l4.5 -8.0h-9.0zM657.3 357.1l4.5 -8.0h-9.0zM657.5 358.5l4.5 -8.0h-9.0zM657.6 361.9l4.5 -8.0h-9.0zM657.8 362.7l4.5 -8.0h-9.0zM658.0 362.7l4.5 -8.0h-9.0zM658.1 359.8l4.5 -8.0h-9.0zM658.3 361.2l4.5 -8.0h-9.0zM658.5 361.5l4.5 -8.0h-9.0zM658.6 362.9l4.5 -8.0h-9.0zM658.8 361.9l4.5 -8.0h-9.0zM658.9 363.0l4.5 -8.0h-9.0zM659.1 362.1l4.5 -8.0h-9.0zM659.2 361.9l4.5 -8.0h-9.0zM659.4 360.4l4.5 -8.0h-9.0zM659.6 363.9l4.5 -8.0h-9.0zM659.7 363.3l4.5 -8.0h-9.0z" fill="#008080"/>
</g>
<line x1="171.8" y1="148.2" x2="445.6" y2="234.2" stroke="#000" stroke-width="3.4" stroke-linecap="round"/>
<text x="62.20" y="45.40" font-size="27.5" font-weight="bold" letter-spacing="0.20">10</text>
<text x="87.64" y="30.80" font-size="16" font-weight="bold">-22</text>
<text x="62.20" y="97.60" font-size="27.5" font-weight="bold" letter-spacing="0.20">10</text>
<text x="87.64" y="83.00" font-size="16" font-weight="bold">-23</text>
<text x="62.20" y="149.80" font-size="27.5" font-weight="bold" letter-spacing="0.20">10</text>
<text x="87.64" y="135.20" font-size="16" font-weight="bold">-24</text>
<text x="62.20" y="202.00" font-size="27.5" font-weight="bold" letter-spacing="0.20">10</text>
<text x="87.64" y="187.40" font-size="16" font-weight="bold">-25</text>
<text x="62.20" y="254.20" font-size="27.5" font-weight="bold" letter-spacing="0.20">10</text>
<text x="87.64" y="239.60" font-size="16" font-weight="bold">-26</text>
<text x="62.20" y="306.40" font-size="27.5" font-weight="bold" letter-spacing="0.20">10</text>
<text x="87.64" y="291.80" font-size="16" font-weight="bold">-27</text>
<text x="62.20" y="358.60" font-size="27.5" font-weight="bold" letter-spacing="0.20">10</text>
<text x="87.64" y="344.00" font-size="16" font-weight="bold">-28</text>
<text x="62.20" y="410.80" font-size="27.5" font-weight="bold" letter-spacing="0.20">10</text>
<text x="87.64" y="396.20" font-size="16" font-weight="bold">-29</text>
<text x="62.20" y="463.00" font-size="27.5" font-weight="bold" letter-spacing="0.20">10</text>
<text x="87.64" y="448.40" font-size="16" font-weight="bold">-30</text>
<text transform="translate(109.19 499.10) scale(1.034 1)" font-size="28.5" font-weight="bold">1</text>
<text x="284.37" y="499.10" font-size="28.5" font-weight="bold" letter-spacing="-1.38">10</text>
<text x="458.97" y="499.10" font-size="28.5" font-weight="bold" letter-spacing="-1.52">100</text>
<text x="634.27" y="499.10" font-size="28.5" font-weight="bold" letter-spacing="-1.56">1000</text>
<text x="271.77" y="536.00" font-size="35.5" font-weight="bold" letter-spacing="-1.79">Frequency (Hz)</text>
<g transform="translate(46.3 456.6) rotate(-90)"><text x="-0.71" y="0.00" font-size="35.5" font-weight="bold" letter-spacing="-0.15">Noise power density (A</text><text x="345.94" y="-17.30" font-size="21.5" font-weight="bold">2</text><text x="357.66" y="0.00" font-size="35.5" font-weight="bold" letter-spacing="-0.60">/Hz)</text></g>
<text x="389.12" y="74.80" font-size="27.7" font-weight="bold" letter-spacing="-1.43">Annealing temperature</text>
<line x1="456" y1="103.6" x2="511" y2="103.6" stroke="#000" stroke-width="1.3"/>
<path d="M480.2 100.3h6.5v6.5h-6.5z" fill="#000"/>
<line x1="456" y1="143.3" x2="511" y2="143.3" stroke="#f00" stroke-width="1.3"/>
<path d="M483.5 143.3h0" stroke="#f00" stroke-width="7.2" stroke-linecap="round" fill="none"/>
<line x1="456" y1="182.7" x2="511" y2="182.7" stroke="#00f" stroke-width="1.3"/>
<path d="M483.5 177.8l3.9 7.7h-7.8z" fill="#00f"/>
<line x1="456" y1="222.3" x2="511" y2="222.3" stroke="#008080" stroke-width="1.3"/>
<path d="M483.5 227.2l3.9 -7.4h-7.8z" fill="#008080"/>
<text x="517.53" y="111.30" font-size="26.5" font-weight="bold" letter-spacing="-0.98">As-grown</text>
<text x="516.26" y="152.00" font-size="28" font-weight="bold" letter-spacing="-0.82">700</text>
<text x="560.34" y="138.10" font-size="16.5" font-weight="bold">o</text>
<text transform="translate(566.08 152.00) scale(1.138 1)" font-size="28.5" font-weight="bold">C</text>
<text x="516.82" y="191.90" font-size="28" font-weight="bold" letter-spacing="-1.10">800</text>
<text x="560.34" y="178.00" font-size="16.5" font-weight="bold">o</text>
<text transform="translate(566.08 191.90) scale(1.138 1)" font-size="28.5" font-weight="bold">C</text>
<text x="517.10" y="231.30" font-size="28" font-weight="bold" letter-spacing="-1.24">900</text>
<text x="560.34" y="217.40" font-size="16.5" font-weight="bold">o</text>
<text transform="translate(566.08 231.30) scale(1.138 1)" font-size="28.5" font-weight="bold">C</text>
<text x="293.30" y="172.70" font-size="26.5" font-weight="bold" letter-spacing="-0.62">Fitting 1/f</text>
</svg></body></html>
